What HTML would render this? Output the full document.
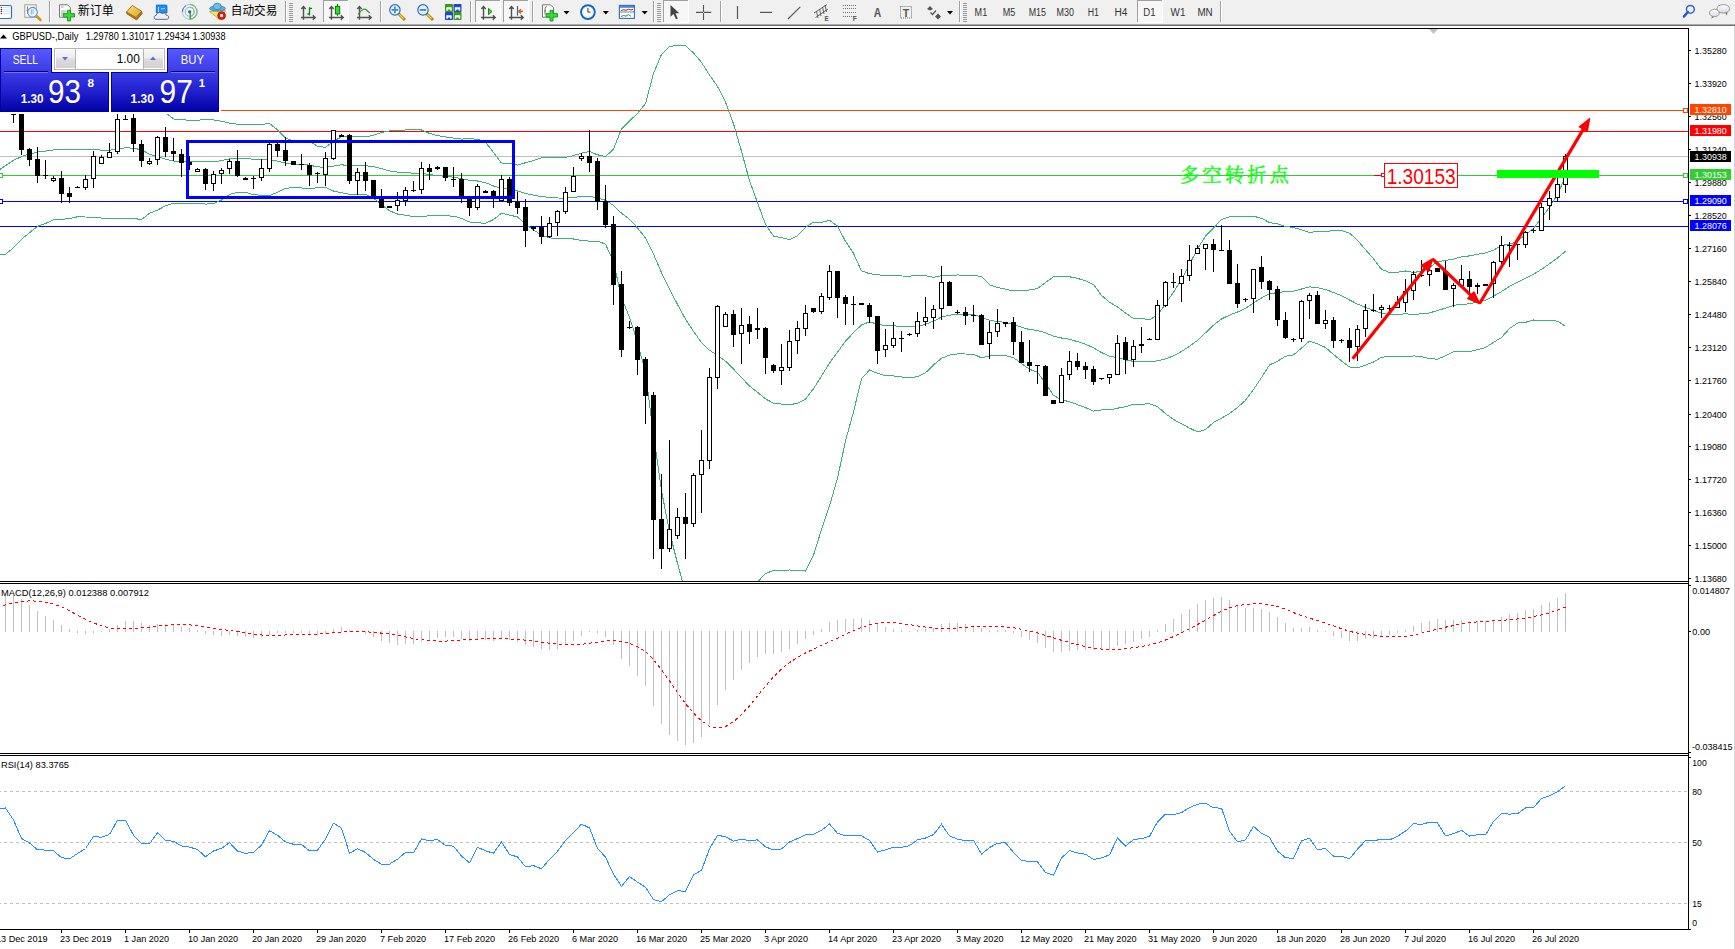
<!DOCTYPE html>
<html><head><meta charset="utf-8"><title>GBPUSD Daily</title>
<style>
html,body{margin:0;padding:0;background:#fff;}
body{width:1735px;height:949px;overflow:hidden;position:relative;}
svg{position:absolute;left:0;top:0;display:block;}
</style></head><body>
<svg width="1735" height="949" viewBox="0 0 1735 949" font-family="'Liberation Sans', sans-serif">
<rect x="0" y="0" width="1735" height="949" fill="#ffffff" />
<rect x="0" y="0" width="1735" height="24" fill="#f0f0f0" />
<rect x="0" y="24" width="1735" height="1" fill="#a9a9a9" />
<rect x="0" y="25" width="1735" height="1" fill="#6f6f6f" />
<rect x="1734" y="26" width="1" height="923" fill="#d4d4d4" />
<rect x="-2" y="5.5" width="13.5" height="13" rx="1.5" fill="#fff" stroke="#2f73c0" stroke-width="1.2"/>
<rect x="2.8" y="7.1" width="7.5" height="0.9" fill="#d4e4ff"/>
<circle cx="1.4" cy="7.5" r="0.75" fill="#f01010"/>
<rect x="2.8" y="9.1" width="7.5" height="0.9" fill="#d4e4ff"/>
<circle cx="1.4" cy="9.5" r="0.75" fill="#203020"/>
<rect x="2.8" y="11.1" width="7.5" height="0.9" fill="#d4e4ff"/>
<circle cx="1.4" cy="11.5" r="0.75" fill="#203020"/>
<rect x="2.8" y="13.1" width="7.5" height="0.9" fill="#d4e4ff"/>
<circle cx="1.4" cy="13.5" r="0.75" fill="#f01010"/>
<rect x="24.8" y="4.8" width="11.5" height="12.5" fill="#fff" stroke="#aaa593" stroke-width="1.1"/>
<path d="M27.5,6.5 L27.5,14 M26.5,10.5 L28.5,10.5 M34,6.5 L34,10" stroke="#707070" stroke-width="0.9"/>
<path d="M37,16.5 L40.5,20" stroke="#c89a10" stroke-width="2.6" stroke-linecap="round"/>
<circle cx="32.5" cy="12.2" r="4.8" fill="#e4f6ff" stroke="#5b92d6" stroke-width="1.1"/>
<path d="M31.5,9.5 L31.5,14.5 M33,9 L33,14" stroke="#9fb6c8" stroke-width="1"/>
<rect x="49" y="1" width="1" height="21" fill="#a0a0a0" />
<rect x="50" y="1" width="1" height="21" fill="#ffffff" />
<path d="M59.5,4.8 L67.5,4.8 L70.3,7.6 L70.3,17.2 L59.5,17.2 Z" fill="#fff" stroke="#777" stroke-width="1"/>
<path d="M61,7 L63.5,7 M61,11 L66,11 M61,13 L65,13 M61,15 L63,15" stroke="#999" stroke-width="0.9"/>
<path d="M67.5,10.3 L70.5,10.3 L70.5,13.6 L74.5,13.6 L74.5,17 L70.5,17 L70.5,21 L67.5,21 L67.5,17 L63.3,17 L63.3,13.6 L67.5,13.6 Z" fill="#3ad83a" stroke="#139a13" stroke-width="0.9"/>
<text x="77.8" y="15.3" font-size="12" fill="#000" font-family="'Liberation Sans', 'Noto Sans CJK SC', sans-serif" textLength="36" lengthAdjust="spacingAndGlyphs">新订单</text>
<defs><linearGradient id="ggold" x1="0" y1="0" x2="1" y2="1"><stop offset="0" stop-color="#f8e27a"/><stop offset="1" stop-color="#d8a820"/></linearGradient></defs>
<path d="M136,17.5 L141.6,11.2 L142.2,13.6 L136.6,20 L126.8,13.8 L126.6,12 Z" fill="#b8741a" stroke="#8a5010" stroke-width="0.7"/>
<path d="M126.6,12 L132.3,5.4 L141.6,11.2 L136,17.5 Z" fill="url(#ggold)" stroke="#a86810" stroke-width="0.9"/>
<path d="M156.3,5 L166.3,5 L167,6 L167,13 L156.3,13 Z" fill="#1b8ef0" stroke="#0c6ad0" stroke-width="0.8"/>
<path d="M158.5,7 L158.5,12 M160.8,9 L165,8.3" stroke="#bfe3ff" stroke-width="0.9"/>
<path d="M156,19.3 C153.5,19.3 153.6,15.2 156.3,15.3 C156.6,12.3 160.5,11.7 161.8,13.6 C163.3,12.4 166.2,13.4 166.3,15.3 C169.5,15.1 169.6,19.3 166.8,19.3 Z" fill="#eef0f6" stroke="#4c5d8c" stroke-width="0.9"/>
<circle cx="189.7" cy="11.8" r="7.4" fill="none" stroke="#9ec4e6" stroke-width="1"/>
<path d="M189.7,4.4 A7.4,7.4 0 0 1 189.7,19.2" fill="none" stroke="#7cba7c" stroke-width="1.2"/>
<circle cx="189.7" cy="11.8" r="4.5" fill="none" stroke="#8fb4e0" stroke-width="1"/>
<path d="M189.7,7.3 A4.5,4.5 0 0 1 189.7,16.3" fill="none" stroke="#86c086" stroke-width="1.1"/>
<path d="M182.4,11.8 A7.4,7.4 0 0 1 186,5.5" fill="none" stroke="#3d6fd0" stroke-width="1"/>
<circle cx="189.7" cy="11.8" r="1.6" fill="#2552c8"/>
<path d="M190.2,12 L190.2,19.3" stroke="#1aa01a" stroke-width="1.2"/>
<path d="M209.5,11.5 L225.5,10.5 L219.5,19.5 Z" fill="#f6e45a" stroke="#c8a020" stroke-width="0.8"/>
<ellipse cx="217.5" cy="8.5" rx="8" ry="2.6" fill="#5aaee0" stroke="#2a80b8" stroke-width="0.8"/>
<ellipse cx="217.3" cy="6.5" rx="4" ry="3.2" fill="#6cc0ee" stroke="#2a80b8" stroke-width="0.8"/>
<circle cx="221.6" cy="15.6" r="3.9" fill="#e02010" stroke="#b01000" stroke-width="0.8"/>
<rect x="220.2" y="14.2" width="2.8" height="2.8" fill="#fff"/>
<text x="230.8" y="15.3" font-size="12" fill="#000" font-family="'Liberation Sans', 'Noto Sans CJK SC', sans-serif" textLength="46.5" lengthAdjust="spacingAndGlyphs">自动交易</text>
<rect x="285" y="1" width="1" height="21" fill="#a0a0a0" />
<rect x="286" y="1" width="1" height="21" fill="#ffffff" />
<rect x="289" y="3" width="4" height="1" fill="#9a9a9a" />
<rect x="289" y="5" width="4" height="1" fill="#9a9a9a" />
<rect x="289" y="7" width="4" height="1" fill="#9a9a9a" />
<rect x="289" y="9" width="4" height="1" fill="#9a9a9a" />
<rect x="289" y="11" width="4" height="1" fill="#9a9a9a" />
<rect x="289" y="13" width="4" height="1" fill="#9a9a9a" />
<rect x="289" y="15" width="4" height="1" fill="#9a9a9a" />
<rect x="289" y="17" width="4" height="1" fill="#9a9a9a" />
<rect x="289" y="19" width="4" height="1" fill="#9a9a9a" />
<rect x="289" y="21" width="4" height="1" fill="#9a9a9a" />
<path d="M303.5,19.8 L303.5,6.8 M301.3,9 L303.5,6.6 L305.7,9 M301.0,17.5 L315.0,17.5 M312.8,15.3 L315.2,17.5 L312.8,19.7" stroke="#505050" stroke-width="1.4" fill="none"/>
<path d="M307.5,14 L309.5,14 L309.5,7.2 M309.5,8.3 L312,8.3 M309.5,7.2 L309.5,15.5" stroke="#008a00" stroke-width="1.3" fill="none"/>
<rect x="323" y="0" width="25" height="22" fill="#f7f7f7" />
<rect x="323" y="0" width="25" height="1" fill="#a0a0a0" />
<rect x="323" y="0" width="1" height="22" fill="#a0a0a0" />
<rect x="323" y="22" width="26" height="1" fill="#ffffff" />
<rect x="348" y="0" width="1" height="23" fill="#ffffff" />
<path d="M331.5,19.8 L331.5,6.8 M329.3,9 L331.5,6.6 L333.7,9 M329.0,17.5 L343.0,17.5 M340.8,15.3 L343.2,17.5 L340.8,19.7" stroke="#505050" stroke-width="1.4" fill="none"/>
<path d="M337.5,4 L337.5,15.8" stroke="#008000" stroke-width="1.2"/>
<rect x="335.4" y="6.4" width="4.3" height="7.5" fill="#38d838" stroke="#008000" stroke-width="1"/>
<path d="M359.5,19.8 L359.5,6.8 M357.3,9 L359.5,6.6 L361.7,9 M357.0,17.5 L371.0,17.5 M368.8,15.3 L371.2,17.5 L368.8,19.7" stroke="#505050" stroke-width="1.4" fill="none"/>
<path d="M358,14.5 Q361,10.5 363.5,9.3 Q365.5,8.6 367.5,11 L369.8,13" stroke="#2a9a2a" stroke-width="1.2" fill="none"/>
<rect x="380" y="1" width="1" height="21" fill="#a0a0a0" />
<rect x="381" y="1" width="1" height="21" fill="#ffffff" />
<path d="M398.9,14 L403.9,19" stroke="#b88a08" stroke-width="3" stroke-linecap="square"/>
<path d="M399.29999999999995,14.4 L403.5,18.6" stroke="#f0d850" stroke-width="1.2"/>
<circle cx="394.9" cy="9.9" r="5.2" fill="#dff2ff" stroke="#2a6fc0" stroke-width="1.2"/>
<path d="M391.59999999999997,9.9 L398.2,9.9 M394.9,6.6 L394.9,13.2" stroke="#4886b4" stroke-width="1.6"/>
<path d="M427,14 L432,19" stroke="#b88a08" stroke-width="3" stroke-linecap="square"/>
<path d="M427.4,14.4 L431.6,18.6" stroke="#f0d850" stroke-width="1.2"/>
<circle cx="423" cy="9.9" r="5.2" fill="#dff2ff" stroke="#2a6fc0" stroke-width="1.2"/>
<path d="M419.8,9.9 L426.2,9.9" stroke="#4886b4" stroke-width="1.8"/>
<rect x="445" y="4" width="8" height="8" rx="0.8" fill="#3a9a14"/>
<path d="M446.3,7.2 L451.7,7.2 L451.7,10.8 L450.2,10.8 L450.2,9.6 L447.8,9.6 L447.8,10.8 L446.3,10.8 Z" fill="#fff"/>
<rect x="453.5" y="4" width="8" height="8" rx="0.8" fill="#1a48d0"/>
<path d="M454.8,7.2 L460.2,7.2 L460.2,10.8 L458.7,10.8 L458.7,9.6 L456.3,9.6 L456.3,10.8 L454.8,10.8 Z" fill="#fff"/>
<rect x="445" y="12" width="8" height="8" rx="0.8" fill="#1a48d0"/>
<path d="M446.3,15.2 L451.7,15.2 L451.7,18.8 L450.2,18.8 L450.2,17.6 L447.8,17.6 L447.8,18.8 L446.3,18.8 Z" fill="#fff"/>
<rect x="453.5" y="12" width="8" height="8" rx="0.8" fill="#3a9a14"/>
<path d="M454.8,15.2 L460.2,15.2 L460.2,18.8 L458.7,18.8 L458.7,17.6 L456.3,17.6 L456.3,18.8 L454.8,18.8 Z" fill="#fff"/>
<rect x="470" y="1" width="1" height="21" fill="#a0a0a0" />
<rect x="471" y="1" width="1" height="21" fill="#ffffff" />
<rect x="475" y="0" width="25" height="22" fill="#f7f7f7" />
<rect x="475" y="0" width="25" height="1" fill="#a0a0a0" />
<rect x="475" y="0" width="1" height="22" fill="#a0a0a0" />
<rect x="475" y="22" width="26" height="1" fill="#ffffff" />
<rect x="500" y="0" width="1" height="23" fill="#ffffff" />
<path d="M483.5,19.8 L483.5,6.8 M481.3,9 L483.5,6.6 L485.7,9 M481.0,17.5 L495.0,17.5 M492.8,15.3 L495.2,17.5 L492.8,19.7" stroke="#505050" stroke-width="1.4" fill="none"/>
<path d="M488.5,8.3 L492,11.5 L488.5,14.7 Z" fill="#40d040" stroke="#109010" stroke-width="1"/>
<rect x="503" y="0" width="25" height="22" fill="#f7f7f7" />
<rect x="503" y="0" width="25" height="1" fill="#a0a0a0" />
<rect x="503" y="0" width="1" height="22" fill="#a0a0a0" />
<rect x="503" y="22" width="26" height="1" fill="#ffffff" />
<rect x="528" y="0" width="1" height="23" fill="#ffffff" />
<path d="M511.5,19.8 L511.5,6.8 M509.3,9 L511.5,6.6 L513.7,9 M509.0,17.5 L523.0,17.5 M520.8,15.3 L523.2,17.5 L520.8,19.7" stroke="#505050" stroke-width="1.4" fill="none"/>
<path d="M517.5,6 L517.5,15.7" stroke="#1a6ea8" stroke-width="1.2"/>
<path d="M518.5,11.4 L523,11.4 M518.5,11.4 L521,9.3 M518.5,11.4 L521,13.5" stroke="#e8500a" stroke-width="1.4"/>
<rect x="532" y="1" width="1" height="21" fill="#a0a0a0" />
<rect x="533" y="1" width="1" height="21" fill="#ffffff" />
<path d="M542.5,4.8 L550.5,4.8 L553.5,7.8 L553.5,17.2 L542.5,17.2 Z" fill="#fff" stroke="#777" stroke-width="1"/>
<path d="M545,14.5 L545,9 Q545,6.5 547,6.5 M544,11 L546,11" stroke="#605040" stroke-width="0.8" fill="none"/>
<path d="M550,10.3 L553,10.3 L553,13.6 L557.5,13.6 L557.5,17 L553,17 L553,21 L550,21 L550,17 L546,17 L546,13.6 L550,13.6 Z" fill="#3ad83a" stroke="#139a13" stroke-width="0.9"/>
<path d="M563.5,11 L569.5,11 L566.5,14.5 Z" fill="#000"/>
<circle cx="587.9" cy="12.1" r="6.9" fill="#fff" stroke="#1565c8" stroke-width="1.9"/>
<path d="M587.9,12.1 L587.9,8 M587.9,12.1 L590.5,12.1" stroke="#333" stroke-width="1"/>
<circle cx="587.9" cy="12.1" r="4.6" fill="none" stroke="#c8c8c8" stroke-width="0.8" stroke-dasharray="0.8,1.6"/>
<path d="M602.8,11 L608.8,11 L605.8,14.5 Z" fill="#000"/>
<rect x="619.4" y="5.4" width="15" height="13" fill="#fff" stroke="#2d6cc0" stroke-width="1.1"/>
<rect x="620" y="6" width="14" height="1.8" fill="#4a88d8"/>
<path d="M620,12 L634,12" stroke="#2d6cc0" stroke-width="0.8"/>
<path d="M621,10.5 L623.5,9.8 L626,10.3 L628.5,9.2 L631,10 L633,9.2" stroke="#a82010" stroke-width="1" fill="none"/>
<path d="M621,16.5 L623.5,15.5 L626,16.2 L628.5,14.6 L631,16.3" stroke="#1a9a1a" stroke-width="1" fill="none"/>
<path d="M641.7,11 L647.7,11 L644.7,14.5 Z" fill="#000"/>
<rect x="653" y="1" width="1" height="21" fill="#a0a0a0" />
<rect x="654" y="1" width="1" height="21" fill="#ffffff" />
<rect x="657" y="3" width="4" height="1" fill="#9a9a9a" />
<rect x="657" y="5" width="4" height="1" fill="#9a9a9a" />
<rect x="657" y="7" width="4" height="1" fill="#9a9a9a" />
<rect x="657" y="9" width="4" height="1" fill="#9a9a9a" />
<rect x="657" y="11" width="4" height="1" fill="#9a9a9a" />
<rect x="657" y="13" width="4" height="1" fill="#9a9a9a" />
<rect x="657" y="15" width="4" height="1" fill="#9a9a9a" />
<rect x="657" y="17" width="4" height="1" fill="#9a9a9a" />
<rect x="657" y="19" width="4" height="1" fill="#9a9a9a" />
<rect x="657" y="21" width="4" height="1" fill="#9a9a9a" />
<rect x="663" y="0" width="25" height="22" fill="#f7f7f7" />
<rect x="663" y="0" width="25" height="1" fill="#a0a0a0" />
<rect x="663" y="0" width="1" height="22" fill="#a0a0a0" />
<rect x="663" y="22" width="26" height="1" fill="#ffffff" />
<rect x="688" y="0" width="1" height="23" fill="#ffffff" />
<path d="M670.5,5 L670.5,16.8 L673.5,14 L676,19.3 L677.8,18.4 L675.4,13.3 L679.3,13.3 Z" fill="#444"/>
<path d="M696,12.4 L711.2,12.4 M703.5,5 L703.5,20" stroke="#555" stroke-width="1.1"/>
<rect x="703" y="11.9" width="1" height="1" fill="#f0f0f0"/>
<rect x="720" y="1" width="1" height="21" fill="#a0a0a0" />
<rect x="721" y="1" width="1" height="21" fill="#ffffff" />
<path d="M737.5,6 L737.5,19" stroke="#555" stroke-width="1.2"/>
<path d="M760,12.4 L772,12.4" stroke="#555" stroke-width="1.2"/>
<path d="M788,19 L800.3,6.8" stroke="#555" stroke-width="1.1"/>
<path d="M814,13 L827,4.5 M815.5,17.5 L828,9 M816.5,11 L818,18 M819.5,9 L821,16 M822.5,7 L824,14 M825,5 L826.5,12" stroke="#555" stroke-width="0.9" fill="none"/>
<text x="824.5" y="21" font-size="7" fill="#555" textLength="4.2" lengthAdjust="spacingAndGlyphs" font-weight="bold" >E</text>
<path d="M843,5.5 L856,5.5" stroke="#555" stroke-width="0.9" stroke-dasharray="0.9,1.1"/>
<path d="M843,8.5 L856,8.5" stroke="#555" stroke-width="0.9" stroke-dasharray="0.9,1.1"/>
<path d="M843,12.5 L856,12.5" stroke="#555" stroke-width="0.9" stroke-dasharray="0.9,1.1"/>
<path d="M843,16.5 L856,16.5" stroke="#555" stroke-width="0.9" stroke-dasharray="0.9,1.1"/>
<text x="852.8" y="21" font-size="7" fill="#555" textLength="4.0" lengthAdjust="spacingAndGlyphs" font-weight="bold" >F</text>
<text x="873.8" y="17.2" font-size="12" fill="#555" textLength="7.5" lengthAdjust="spacingAndGlyphs" font-weight="bold" >A</text>
<rect x="900.5" y="6.5" width="11" height="11.5" fill="none" stroke="#555" stroke-width="0.9" stroke-dasharray="0.9,1.1"/>
<text x="902.8" y="16.5" font-size="10.5" fill="#555" textLength="6.5" lengthAdjust="spacingAndGlyphs" font-weight="bold" >T</text>
<path d="M927,9 L930,6 L933,9 L930,10.5 Z M935,16.5 L938,13.5 L941,16.5 L938,19.5 Z" fill="#555"/>
<path d="M930.5,12.5 L932.5,14.5 L936,10.5" stroke="#555" stroke-width="1.2" fill="none"/>
<path d="M947,11 L953,11 L950,14.5 Z" fill="#000"/>
<rect x="959" y="1" width="1" height="21" fill="#a0a0a0" />
<rect x="960" y="1" width="1" height="21" fill="#ffffff" />
<rect x="963" y="3" width="4" height="1" fill="#9a9a9a" />
<rect x="963" y="5" width="4" height="1" fill="#9a9a9a" />
<rect x="963" y="7" width="4" height="1" fill="#9a9a9a" />
<rect x="963" y="9" width="4" height="1" fill="#9a9a9a" />
<rect x="963" y="11" width="4" height="1" fill="#9a9a9a" />
<rect x="963" y="13" width="4" height="1" fill="#9a9a9a" />
<rect x="963" y="15" width="4" height="1" fill="#9a9a9a" />
<rect x="963" y="17" width="4" height="1" fill="#9a9a9a" />
<rect x="963" y="19" width="4" height="1" fill="#9a9a9a" />
<rect x="963" y="21" width="4" height="1" fill="#9a9a9a" />
<text x="974.6" y="16" font-size="10" fill="#333" textLength="12.6" lengthAdjust="spacingAndGlyphs" >M1</text>
<text x="1002.7" y="16" font-size="10" fill="#333" textLength="12.6" lengthAdjust="spacingAndGlyphs" >M5</text>
<text x="1028.7" y="16" font-size="10" fill="#333" textLength="17.3" lengthAdjust="spacingAndGlyphs" >M15</text>
<text x="1056.6" y="16" font-size="10" fill="#333" textLength="17.4" lengthAdjust="spacingAndGlyphs" >M30</text>
<text x="1087.7" y="16" font-size="10" fill="#333" textLength="11.3" lengthAdjust="spacingAndGlyphs" >H1</text>
<text x="1114.4" y="16" font-size="10" fill="#333" textLength="12.9" lengthAdjust="spacingAndGlyphs" >H4</text>
<rect x="1137" y="0" width="25" height="22" fill="#f7f7f7" />
<rect x="1137" y="0" width="25" height="1" fill="#a0a0a0" />
<rect x="1137" y="0" width="1" height="22" fill="#a0a0a0" />
<rect x="1137" y="22" width="26" height="1" fill="#ffffff" />
<rect x="1162" y="0" width="1" height="23" fill="#ffffff" />
<text x="1143.3" y="16" font-size="10" fill="#333" textLength="12.2" lengthAdjust="spacingAndGlyphs" >D1</text>
<text x="1170.6" y="16" font-size="10" fill="#333" textLength="14.8" lengthAdjust="spacingAndGlyphs" >W1</text>
<text x="1197.4" y="16" font-size="10" fill="#333" textLength="15.3" lengthAdjust="spacingAndGlyphs" >MN</text>
<rect x="1220" y="1" width="1" height="21" fill="#a0a0a0" />
<rect x="1221" y="1" width="1" height="21" fill="#ffffff" />
<circle cx="1690.4" cy="9.3" r="3.9" fill="#f4f4ff" stroke="#2a64d6" stroke-width="1.5"/>
<path d="M1687.8,12 L1683.9,16.6" stroke="#2458d0" stroke-width="2.4" stroke-linecap="round"/>
<defs><linearGradient id="gbub" x1="0" y1="0" x2="0" y2="1"><stop offset="0" stop-color="#ffffff"/><stop offset="1" stop-color="#d8d8e4"/></linearGradient></defs>
<path d="M1725,12.6 L1726.8,15.6 L1727.5,12.3 Z" fill="#666"/>
<ellipse cx="1723.3" cy="8.8" rx="6.4" ry="4.2" fill="url(#gbub)" stroke="#8c8c8c" stroke-width="0.9"/>
<path d="M1712.5,16 L1711.2,18.8 L1714.5,16.6 Z" fill="#666"/>
<ellipse cx="1714.4" cy="13" rx="4.9" ry="3.7" fill="url(#gbub)" stroke="#8c8c8c" stroke-width="0.9"/>
<rect x="0" y="28" width="1689" height="1" fill="#000" />
<rect x="1688" y="28" width="1" height="902" fill="#000" />
<rect x="0" y="581" width="1689" height="1" fill="#000" />
<rect x="0" y="583" width="1689" height="1" fill="#000" />
<rect x="0" y="753" width="1689" height="1" fill="#000" />
<rect x="0" y="755" width="1689" height="1" fill="#000" />
<rect x="0" y="929" width="1689" height="1" fill="#000" />
<defs><clipPath id="cm"><rect x="0" y="29" width="1688" height="552"/></clipPath><clipPath id="cmacd"><rect x="0" y="584" width="1688" height="169"/></clipPath><clipPath id="crsi"><rect x="0" y="756" width="1688" height="173"/></clipPath></defs>
<g clip-path="url(#cm)">
<rect x="0" y="110" width="1688" height="1" fill="#ff4500" />
<rect x="0" y="131" width="1688" height="1" fill="#ff0000" />
<rect x="0" y="156" width="1688" height="1" fill="#c0c0c0" />
<rect x="0" y="175" width="1688" height="1" fill="#32cd32" />
<rect x="0" y="201" width="1688" height="1" fill="#0000ff" />
<rect x="0" y="226" width="1688" height="1" fill="#0000ff" />
<polyline points="-2.5,86.7 5.5,76.9 13.5,72.8 21.5,74.0 29.5,75.4 37.5,77.8 45.5,78.7 53.5,80.0 61.5,80.2 69.5,80.7 77.5,81.4 85.5,81.4 93.5,81.5 101.5,82.2 109.5,82.4 117.5,79.8 125.5,77.4 133.5,78.1 141.5,79.7 149.5,95.7 157.5,102.3 165.5,112.5 173.5,118.9 181.5,119.9 189.5,120.1 197.5,120.1 205.5,119.8 213.5,119.9 221.5,121.2 229.5,123.2 237.5,124.2 245.5,124.2 253.5,124.1 261.5,124.4 269.5,123.5 277.5,129.8 285.5,138.1 293.5,140.7 301.5,140.9 309.5,141.2 317.5,146.3 325.5,147.4 333.5,141.2 341.5,136.9 349.5,136.8 357.5,136.8 365.5,137.0 373.5,135.3 381.5,132.4 389.5,131.0 397.5,130.2 405.5,130.0 413.5,129.9 421.5,130.0 429.5,133.4 437.5,135.6 445.5,137.0 453.5,138.1 461.5,139.1 469.5,138.7 477.5,139.3 485.5,142.0 493.5,152.6 501.5,163.0 509.5,163.4 517.5,165.1 525.5,162.7 533.5,160.6 541.5,157.8 549.5,157.1 557.5,157.2 565.5,157.3 573.5,155.6 581.5,153.1 589.5,151.5 597.5,154.8 605.5,156.5 613.5,149.2 621.5,128.8 629.5,121.1 637.5,113.4 645.5,103.5 653.5,73.5 661.5,54.4 669.5,46.4 677.5,45.5 685.5,45.6 693.5,53.1 701.5,62.3 709.5,75.1 717.5,86.4 725.5,102.1 733.5,123.8 741.5,151.2 749.5,180.6 757.5,202.6 765.5,224.4 773.5,236.0 781.5,237.7 789.5,239.6 797.5,235.7 805.5,227.2 813.5,222.2 821.5,222.4 829.5,220.4 837.5,226.0 845.5,241.4 853.5,253.3 861.5,270.9 869.5,273.7 877.5,274.8 885.5,275.6 893.5,275.7 901.5,276.0 909.5,276.1 917.5,275.7 925.5,275.7 933.5,277.4 941.5,275.7 949.5,275.3 957.5,275.0 965.5,275.1 973.5,275.3 981.5,276.5 989.5,284.7 997.5,287.4 1005.5,289.2 1013.5,290.9 1021.5,290.9 1029.5,289.9 1037.5,288.5 1045.5,282.5 1053.5,276.9 1061.5,276.3 1069.5,276.8 1077.5,278.4 1085.5,280.9 1093.5,284.5 1101.5,295.4 1109.5,302.2 1117.5,307.0 1125.5,313.0 1133.5,318.5 1141.5,318.4 1149.5,319.7 1157.5,315.1 1165.5,303.9 1173.5,292.2 1181.5,279.4 1189.5,264.4 1197.5,248.9 1205.5,236.1 1213.5,228.0 1221.5,219.6 1229.5,216.7 1237.5,216.5 1245.5,216.7 1253.5,216.2 1261.5,218.4 1269.5,222.5 1277.5,223.9 1285.5,226.6 1293.5,227.4 1301.5,229.9 1309.5,232.4 1317.5,231.5 1325.5,231.7 1333.5,230.4 1341.5,230.5 1349.5,233.1 1357.5,240.3 1365.5,249.7 1373.5,258.8 1381.5,269.3 1389.5,272.5 1397.5,272.2 1405.5,271.0 1413.5,272.5 1421.5,271.2 1429.5,267.4 1437.5,261.8 1445.5,260.4 1453.5,259.1 1461.5,256.8 1469.5,255.9 1477.5,254.3 1485.5,252.9 1493.5,250.3 1501.5,245.5 1509.5,244.2 1517.5,241.3 1525.5,234.3 1533.5,228.6 1541.5,217.9 1549.5,207.3 1557.5,194.7 1565.5,176.2" fill="none" stroke="#3cb371" stroke-width="1" shape-rendering="crispEdges"/>
<polyline points="-2.5,171.0 5.5,165.6 13.5,160.3 21.5,156.6 29.5,154.0 37.5,152.1 45.5,151.1 53.5,150.0 61.5,149.9 69.5,149.6 77.5,149.1 85.5,149.2 93.5,149.4 101.5,150.1 109.5,150.3 117.5,149.0 125.5,147.7 133.5,148.3 141.5,149.7 149.5,154.4 157.5,156.3 165.5,159.1 173.5,161.0 181.5,161.7 189.5,161.9 197.5,161.6 205.5,162.0 213.5,161.8 221.5,160.6 229.5,158.8 237.5,158.2 245.5,158.3 253.5,159.4 261.5,159.9 269.5,159.5 277.5,161.1 285.5,163.1 293.5,164.2 301.5,164.4 309.5,165.1 317.5,166.9 325.5,167.3 333.5,166.1 341.5,164.8 349.5,165.6 357.5,165.8 365.5,165.6 373.5,166.7 381.5,168.6 389.5,170.9 397.5,172.1 405.5,172.6 413.5,173.2 421.5,173.2 429.5,174.6 437.5,175.5 445.5,176.4 453.5,177.1 461.5,178.7 469.5,180.4 477.5,181.0 485.5,182.7 493.5,186.0 501.5,188.2 509.5,189.2 517.5,191.0 525.5,193.5 533.5,195.2 541.5,196.6 549.5,197.4 557.5,198.0 565.5,198.1 573.5,197.3 581.5,196.7 589.5,196.3 597.5,198.0 605.5,200.3 613.5,205.5 621.5,213.2 629.5,219.2 637.5,227.9 645.5,238.0 653.5,254.2 661.5,272.6 669.5,289.0 677.5,304.5 685.5,319.1 693.5,331.4 701.5,342.6 709.5,350.3 717.5,355.1 725.5,361.2 733.5,369.1 741.5,377.6 749.5,386.0 757.5,392.3 765.5,398.9 773.5,403.2 781.5,404.1 789.5,404.8 797.5,403.2 805.5,399.1 813.5,388.7 821.5,376.0 829.5,363.1 837.5,352.1 845.5,341.2 853.5,332.6 861.5,324.9 869.5,321.9 877.5,324.1 885.5,325.6 893.5,325.8 901.5,326.5 909.5,326.6 917.5,326.3 925.5,324.3 933.5,321.2 941.5,317.0 949.5,315.2 957.5,314.4 965.5,314.5 973.5,314.7 981.5,317.2 989.5,320.2 997.5,321.5 1005.5,322.4 1013.5,324.3 1021.5,327.2 1029.5,329.6 1037.5,330.4 1045.5,332.9 1053.5,336.1 1061.5,338.0 1069.5,339.3 1077.5,341.6 1085.5,344.2 1093.5,347.8 1101.5,352.6 1109.5,356.1 1117.5,357.6 1125.5,359.8 1133.5,361.4 1141.5,361.3 1149.5,361.7 1157.5,360.8 1165.5,358.8 1173.5,355.9 1181.5,351.5 1189.5,346.3 1197.5,340.4 1205.5,332.8 1213.5,325.2 1221.5,319.0 1229.5,315.1 1237.5,312.0 1245.5,308.5 1253.5,302.9 1261.5,298.0 1269.5,293.7 1277.5,292.6 1285.5,291.5 1293.5,291.1 1301.5,289.0 1309.5,286.8 1317.5,287.7 1325.5,289.6 1333.5,292.4 1341.5,295.7 1349.5,300.0 1357.5,304.1 1365.5,307.4 1373.5,310.4 1381.5,313.2 1389.5,314.5 1397.5,314.3 1405.5,313.9 1413.5,314.2 1421.5,313.9 1429.5,312.9 1437.5,310.5 1445.5,308.1 1453.5,305.4 1461.5,304.3 1469.5,303.9 1477.5,302.0 1485.5,300.2 1493.5,296.3 1501.5,291.5 1509.5,286.4 1517.5,282.2 1525.5,278.3 1533.5,274.3 1541.5,269.3 1549.5,263.8 1557.5,257.9 1565.5,251.2" fill="none" stroke="#3cb371" stroke-width="1" shape-rendering="crispEdges"/>
<polyline points="-2.5,255.3 5.5,254.3 13.5,247.7 21.5,239.3 29.5,232.7 37.5,226.4 45.5,223.4 53.5,219.9 61.5,219.5 69.5,218.5 77.5,216.8 85.5,217.0 93.5,217.3 101.5,218.1 109.5,218.3 117.5,218.2 125.5,218.1 133.5,218.4 141.5,219.6 149.5,213.2 157.5,210.2 165.5,205.7 173.5,203.1 181.5,203.5 189.5,203.8 197.5,203.1 205.5,204.1 213.5,203.6 221.5,200.0 229.5,194.5 237.5,192.2 245.5,192.3 253.5,194.6 261.5,195.4 269.5,195.5 277.5,192.4 285.5,188.2 293.5,187.7 301.5,187.9 309.5,189.0 317.5,187.6 325.5,187.2 333.5,191.0 341.5,192.7 349.5,194.4 357.5,194.7 365.5,194.2 373.5,198.1 381.5,204.8 389.5,210.8 397.5,214.0 405.5,215.2 413.5,216.5 421.5,216.5 429.5,215.8 437.5,215.4 445.5,215.8 453.5,216.2 461.5,218.3 469.5,222.0 477.5,222.7 485.5,223.4 493.5,219.5 501.5,213.3 509.5,215.1 517.5,216.9 525.5,224.3 533.5,229.7 541.5,235.4 549.5,237.8 557.5,238.7 565.5,238.8 573.5,239.0 581.5,240.4 589.5,241.1 597.5,241.1 605.5,244.1 613.5,261.8 621.5,297.7 629.5,317.3 637.5,342.3 645.5,372.5 653.5,434.9 661.5,490.8 669.5,531.5 677.5,563.4 685.5,592.6 693.5,609.8 701.5,622.9 709.5,625.6 717.5,623.8 725.5,620.2 733.5,614.4 741.5,604.0 749.5,591.4 757.5,582.0 765.5,573.5 773.5,570.5 781.5,570.4 789.5,570.0 797.5,570.6 805.5,571.0 813.5,555.1 821.5,529.7 829.5,505.8 837.5,478.3 845.5,440.9 853.5,411.9 861.5,378.8 869.5,370.0 877.5,373.3 885.5,375.6 893.5,375.9 901.5,377.0 909.5,377.2 917.5,376.9 925.5,372.8 933.5,365.0 941.5,358.3 949.5,355.1 957.5,353.9 965.5,354.0 973.5,354.2 981.5,357.9 989.5,355.8 997.5,355.6 1005.5,355.6 1013.5,357.7 1021.5,363.5 1029.5,369.3 1037.5,372.2 1045.5,383.3 1053.5,395.4 1061.5,399.7 1069.5,401.8 1077.5,404.7 1085.5,407.5 1093.5,411.1 1101.5,409.9 1109.5,410.0 1117.5,408.2 1125.5,406.7 1133.5,404.2 1141.5,404.2 1149.5,403.7 1157.5,406.6 1165.5,413.7 1173.5,419.5 1181.5,423.7 1189.5,428.1 1197.5,431.9 1205.5,429.6 1213.5,422.4 1221.5,418.3 1229.5,413.5 1237.5,407.5 1245.5,400.3 1253.5,389.6 1261.5,377.5 1269.5,365.0 1277.5,361.2 1285.5,356.3 1293.5,354.9 1301.5,348.1 1309.5,341.1 1317.5,343.8 1325.5,347.5 1333.5,354.5 1341.5,360.9 1349.5,367.0 1357.5,367.9 1365.5,365.1 1373.5,362.0 1381.5,357.2 1389.5,356.5 1397.5,356.5 1405.5,356.8 1413.5,355.9 1421.5,356.6 1429.5,358.5 1437.5,359.2 1445.5,355.8 1453.5,351.6 1461.5,351.8 1469.5,351.8 1477.5,349.6 1485.5,347.5 1493.5,342.3 1501.5,337.5 1509.5,328.6 1517.5,323.1 1525.5,322.3 1533.5,320.0 1541.5,320.7 1549.5,320.3 1557.5,321.2 1565.5,326.2" fill="none" stroke="#3cb371" stroke-width="1" shape-rendering="crispEdges"/>
<g shape-rendering="crispEdges">
<rect x="5" y="60" width="1" height="48" fill="#000" />
<rect x="3" y="62" width="5" height="38" fill="#000" />
<rect x="13" y="114" width="1" height="9" fill="#000" />
<rect x="11" y="114" width="5" height="1" fill="#000" />
<rect x="21" y="100" width="1" height="55" fill="#000" />
<rect x="19" y="104" width="5" height="46" fill="#000" />
<rect x="29" y="148" width="1" height="18" fill="#000" />
<rect x="27" y="149" width="5" height="11" fill="#000" />
<rect x="37" y="147" width="1" height="36" fill="#000" />
<rect x="35" y="159" width="5" height="17" fill="#000" />
<rect x="45" y="160" width="1" height="19" fill="#000" />
<rect x="43" y="175" width="5" height="1" fill="#000" />
<rect x="53" y="176" width="1" height="6" fill="#000" />
<rect x="51.5" y="178.5" width="4" height="2" fill="#fff" stroke="#000"/>
<rect x="61" y="171" width="1" height="32" fill="#000" />
<rect x="59" y="178" width="5" height="16" fill="#000" />
<rect x="69" y="187" width="1" height="16" fill="#000" />
<rect x="67" y="193" width="5" height="4" fill="#000" />
<rect x="77" y="186" width="1" height="2" fill="#000" />
<rect x="75" y="187" width="5" height="1" fill="#000" />
<rect x="85" y="175" width="1" height="15" fill="#000" />
<rect x="83.5" y="179.5" width="4" height="8" fill="#fff" stroke="#000"/>
<rect x="93" y="151" width="1" height="37" fill="#000" />
<rect x="91.5" y="156.5" width="4" height="22" fill="#fff" stroke="#000"/>
<rect x="101" y="155" width="1" height="9" fill="#000" />
<rect x="99.5" y="157.5" width="4" height="6" fill="#fff" stroke="#000"/>
<rect x="109" y="143" width="1" height="15" fill="#000" />
<rect x="107.5" y="152.5" width="4" height="5" fill="#fff" stroke="#000"/>
<rect x="117" y="114" width="1" height="40" fill="#000" />
<rect x="115.5" y="119.5" width="4" height="32" fill="#fff" stroke="#000"/>
<rect x="125" y="115" width="1" height="5" fill="#000" />
<rect x="123" y="119" width="5" height="1" fill="#000" />
<rect x="133" y="114" width="1" height="38" fill="#000" />
<rect x="131" y="118" width="5" height="26" fill="#000" />
<rect x="141" y="140" width="1" height="27" fill="#000" />
<rect x="139" y="144" width="5" height="17" fill="#000" />
<rect x="149" y="158" width="1" height="7" fill="#000" />
<rect x="147.5" y="161.5" width="4" height="2" fill="#fff" stroke="#000"/>
<rect x="157" y="136" width="1" height="29" fill="#000" />
<rect x="155.5" y="137.5" width="4" height="22" fill="#fff" stroke="#000"/>
<rect x="165" y="127" width="1" height="30" fill="#000" />
<rect x="163" y="137" width="5" height="15" fill="#000" />
<rect x="173" y="138" width="1" height="23" fill="#000" />
<rect x="171" y="151" width="5" height="3" fill="#000" />
<rect x="181" y="149" width="1" height="28" fill="#000" />
<rect x="179" y="154" width="5" height="9" fill="#000" />
<rect x="189" y="156" width="1" height="14" fill="#000" />
<rect x="187" y="162" width="5" height="3" fill="#000" />
<rect x="197" y="168" width="1" height="4" fill="#000" />
<rect x="195.5" y="169.5" width="4" height="2" fill="#fff" stroke="#000"/>
<rect x="205" y="168" width="1" height="22" fill="#000" />
<rect x="203" y="169" width="5" height="15" fill="#000" />
<rect x="213" y="171" width="1" height="20" fill="#000" />
<rect x="211.5" y="174.5" width="4" height="9" fill="#fff" stroke="#000"/>
<rect x="221" y="168" width="1" height="16" fill="#000" />
<rect x="219.5" y="170.5" width="4" height="3" fill="#fff" stroke="#000"/>
<rect x="229" y="159" width="1" height="15" fill="#000" />
<rect x="227.5" y="161.5" width="4" height="7" fill="#fff" stroke="#000"/>
<rect x="237" y="150" width="1" height="27" fill="#000" />
<rect x="235" y="161" width="5" height="15" fill="#000" />
<rect x="245" y="177" width="1" height="3" fill="#000" />
<rect x="243" y="178" width="5" height="2" fill="#000" />
<rect x="253" y="176" width="1" height="13" fill="#000" />
<rect x="251" y="178" width="5" height="1" fill="#000" />
<rect x="261" y="159" width="1" height="22" fill="#000" />
<rect x="259.5" y="168.5" width="4" height="9" fill="#fff" stroke="#000"/>
<rect x="269" y="143" width="1" height="29" fill="#000" />
<rect x="267.5" y="144.5" width="4" height="24" fill="#fff" stroke="#000"/>
<rect x="277" y="143" width="1" height="14" fill="#000" />
<rect x="275" y="144" width="5" height="7" fill="#000" />
<rect x="285" y="137" width="1" height="29" fill="#000" />
<rect x="283" y="150" width="5" height="11" fill="#000" />
<rect x="293" y="161" width="1" height="4" fill="#000" />
<rect x="291" y="161" width="5" height="4" fill="#000" />
<rect x="301" y="154" width="1" height="16" fill="#000" />
<rect x="299" y="164" width="5" height="1" fill="#000" />
<rect x="309" y="163" width="1" height="23" fill="#000" />
<rect x="307" y="165" width="5" height="10" fill="#000" />
<rect x="317" y="172" width="1" height="11" fill="#000" />
<rect x="315" y="173" width="5" height="1" fill="#000" />
<rect x="325" y="152" width="1" height="34" fill="#000" />
<rect x="323.5" y="158.5" width="4" height="16" fill="#fff" stroke="#000"/>
<rect x="333" y="130" width="1" height="30" fill="#000" />
<rect x="331.5" y="130.5" width="4" height="28" fill="#fff" stroke="#000"/>
<rect x="341" y="134" width="1" height="3" fill="#000" />
<rect x="339" y="135" width="5" height="2" fill="#000" />
<rect x="349" y="134" width="1" height="50" fill="#000" />
<rect x="347" y="135" width="5" height="46" fill="#000" />
<rect x="357" y="168" width="1" height="27" fill="#000" />
<rect x="355.5" y="172.5" width="4" height="8" fill="#fff" stroke="#000"/>
<rect x="365" y="162" width="1" height="29" fill="#000" />
<rect x="363" y="172" width="5" height="9" fill="#000" />
<rect x="373" y="180" width="1" height="17" fill="#000" />
<rect x="371" y="180" width="5" height="16" fill="#000" />
<rect x="381" y="189" width="1" height="19" fill="#000" />
<rect x="379" y="197" width="5" height="11" fill="#000" />
<rect x="389" y="206" width="1" height="2" fill="#000" />
<rect x="387" y="206" width="5" height="2" fill="#000" />
<rect x="397" y="192" width="1" height="19" fill="#000" />
<rect x="395.5" y="200.5" width="4" height="5" fill="#fff" stroke="#000"/>
<rect x="405" y="187" width="1" height="19" fill="#000" />
<rect x="403.5" y="190.5" width="4" height="10" fill="#fff" stroke="#000"/>
<rect x="413" y="181" width="1" height="11" fill="#000" />
<rect x="411" y="190" width="5" height="1" fill="#000" />
<rect x="421" y="162" width="1" height="32" fill="#000" />
<rect x="419.5" y="168.5" width="4" height="21" fill="#fff" stroke="#000"/>
<rect x="429" y="164" width="1" height="16" fill="#000" />
<rect x="427" y="168" width="5" height="4" fill="#000" />
<rect x="437" y="166" width="1" height="4" fill="#000" />
<rect x="435" y="167" width="5" height="2" fill="#000" />
<rect x="445" y="167" width="1" height="14" fill="#000" />
<rect x="443" y="167" width="5" height="11" fill="#000" />
<rect x="453" y="167" width="1" height="20" fill="#000" />
<rect x="451" y="179" width="5" height="1" fill="#000" />
<rect x="461" y="173" width="1" height="30" fill="#000" />
<rect x="459" y="179" width="5" height="17" fill="#000" />
<rect x="469" y="196" width="1" height="20" fill="#000" />
<rect x="467" y="198" width="5" height="10" fill="#000" />
<rect x="477" y="184" width="1" height="26" fill="#000" />
<rect x="475.5" y="186.5" width="4" height="21" fill="#fff" stroke="#000"/>
<rect x="485" y="190" width="1" height="3" fill="#000" />
<rect x="483" y="191" width="5" height="2" fill="#000" />
<rect x="493" y="190" width="1" height="18" fill="#000" />
<rect x="491" y="191" width="5" height="6" fill="#000" />
<rect x="501" y="175" width="1" height="26" fill="#000" />
<rect x="499.5" y="179.5" width="4" height="21" fill="#fff" stroke="#000"/>
<rect x="509" y="177" width="1" height="29" fill="#000" />
<rect x="507" y="179" width="5" height="24" fill="#000" />
<rect x="517" y="192" width="1" height="22" fill="#000" />
<rect x="515" y="202" width="5" height="6" fill="#000" />
<rect x="525" y="199" width="1" height="48" fill="#000" />
<rect x="523" y="207" width="5" height="24" fill="#000" />
<rect x="533" y="226" width="1" height="5" fill="#000" />
<rect x="531" y="227" width="5" height="2" fill="#000" />
<rect x="541" y="216" width="1" height="28" fill="#000" />
<rect x="539" y="227" width="5" height="10" fill="#000" />
<rect x="549" y="217" width="1" height="21" fill="#000" />
<rect x="547.5" y="223.5" width="4" height="13" fill="#fff" stroke="#000"/>
<rect x="557" y="210" width="1" height="26" fill="#000" />
<rect x="555.5" y="211.5" width="4" height="11" fill="#fff" stroke="#000"/>
<rect x="565" y="187" width="1" height="27" fill="#000" />
<rect x="563.5" y="192.5" width="4" height="19" fill="#fff" stroke="#000"/>
<rect x="573" y="167" width="1" height="25" fill="#000" />
<rect x="571.5" y="176.5" width="4" height="15" fill="#fff" stroke="#000"/>
<rect x="581" y="153" width="1" height="8" fill="#000" />
<rect x="579.5" y="156.5" width="4" height="2" fill="#fff" stroke="#000"/>
<rect x="589" y="130" width="1" height="42" fill="#000" />
<rect x="587" y="156" width="5" height="7" fill="#000" />
<rect x="597" y="158" width="1" height="52" fill="#000" />
<rect x="595" y="161" width="5" height="41" fill="#000" />
<rect x="605" y="185" width="1" height="43" fill="#000" />
<rect x="603" y="201" width="5" height="24" fill="#000" />
<rect x="613" y="216" width="1" height="89" fill="#000" />
<rect x="611" y="224" width="5" height="61" fill="#000" />
<rect x="621" y="271" width="1" height="86" fill="#000" />
<rect x="619" y="284" width="5" height="66" fill="#000" />
<rect x="629" y="321" width="1" height="8" fill="#000" />
<rect x="627" y="327" width="5" height="1" fill="#000" />
<rect x="637" y="326" width="1" height="49" fill="#000" />
<rect x="635" y="327" width="5" height="33" fill="#000" />
<rect x="645" y="357" width="1" height="67" fill="#000" />
<rect x="643" y="359" width="5" height="37" fill="#000" />
<rect x="653" y="392" width="1" height="167" fill="#000" />
<rect x="651" y="395" width="5" height="125" fill="#000" />
<rect x="661" y="474" width="1" height="95" fill="#000" />
<rect x="659" y="519" width="5" height="30" fill="#000" />
<rect x="669" y="440" width="1" height="112" fill="#000" />
<rect x="667.5" y="529.5" width="4" height="19" fill="#fff" stroke="#000"/>
<rect x="677" y="508" width="1" height="31" fill="#000" />
<rect x="675.5" y="517.5" width="4" height="18" fill="#fff" stroke="#000"/>
<rect x="685" y="493" width="1" height="66" fill="#000" />
<rect x="683" y="517" width="5" height="7" fill="#000" />
<rect x="693" y="473" width="1" height="54" fill="#000" />
<rect x="691.5" y="475.5" width="4" height="48" fill="#fff" stroke="#000"/>
<rect x="701" y="430" width="1" height="83" fill="#000" />
<rect x="699.5" y="460.5" width="4" height="14" fill="#fff" stroke="#000"/>
<rect x="709" y="368" width="1" height="101" fill="#000" />
<rect x="707.5" y="377.5" width="4" height="83" fill="#fff" stroke="#000"/>
<rect x="717" y="305" width="1" height="84" fill="#000" />
<rect x="715.5" y="306.5" width="4" height="71" fill="#fff" stroke="#000"/>
<rect x="725" y="312" width="1" height="15" fill="#000" />
<rect x="723.5" y="314.5" width="4" height="12" fill="#fff" stroke="#000"/>
<rect x="733" y="310" width="1" height="37" fill="#000" />
<rect x="731" y="314" width="5" height="21" fill="#000" />
<rect x="741" y="308" width="1" height="56" fill="#000" />
<rect x="739.5" y="325.5" width="4" height="8" fill="#fff" stroke="#000"/>
<rect x="749" y="316" width="1" height="28" fill="#000" />
<rect x="747" y="324" width="5" height="8" fill="#000" />
<rect x="757" y="308" width="1" height="31" fill="#000" />
<rect x="755.5" y="328.5" width="4" height="1" fill="#fff" stroke="#000"/>
<rect x="765" y="327" width="1" height="47" fill="#000" />
<rect x="763" y="328" width="5" height="30" fill="#000" />
<rect x="773" y="364" width="1" height="9" fill="#000" />
<rect x="771" y="365" width="5" height="6" fill="#000" />
<rect x="781" y="344" width="1" height="41" fill="#000" />
<rect x="779.5" y="367.5" width="4" height="3" fill="#fff" stroke="#000"/>
<rect x="789" y="330" width="1" height="41" fill="#000" />
<rect x="787.5" y="341.5" width="4" height="26" fill="#fff" stroke="#000"/>
<rect x="797" y="321" width="1" height="33" fill="#000" />
<rect x="795.5" y="328.5" width="4" height="12" fill="#fff" stroke="#000"/>
<rect x="805" y="305" width="1" height="31" fill="#000" />
<rect x="803.5" y="313.5" width="4" height="15" fill="#fff" stroke="#000"/>
<rect x="813" y="308" width="1" height="5" fill="#000" />
<rect x="811" y="308" width="5" height="4" fill="#000" />
<rect x="821" y="293" width="1" height="21" fill="#000" />
<rect x="819.5" y="296.5" width="4" height="15" fill="#fff" stroke="#000"/>
<rect x="829" y="265" width="1" height="35" fill="#000" />
<rect x="827.5" y="271.5" width="4" height="26" fill="#fff" stroke="#000"/>
<rect x="837" y="271" width="1" height="47" fill="#000" />
<rect x="835" y="271" width="5" height="27" fill="#000" />
<rect x="845" y="295" width="1" height="30" fill="#000" />
<rect x="843" y="297" width="5" height="7" fill="#000" />
<rect x="853" y="296" width="1" height="29" fill="#000" />
<rect x="851" y="304" width="5" height="1" fill="#000" />
<rect x="861" y="303" width="1" height="2" fill="#000" />
<rect x="859" y="303" width="5" height="2" fill="#000" />
<rect x="869" y="303" width="1" height="20" fill="#000" />
<rect x="867" y="305" width="5" height="12" fill="#000" />
<rect x="877" y="316" width="1" height="48" fill="#000" />
<rect x="875" y="316" width="5" height="35" fill="#000" />
<rect x="885" y="329" width="1" height="28" fill="#000" />
<rect x="883.5" y="345.5" width="4" height="4" fill="#fff" stroke="#000"/>
<rect x="893" y="322" width="1" height="26" fill="#000" />
<rect x="891.5" y="338.5" width="4" height="7" fill="#fff" stroke="#000"/>
<rect x="901" y="331" width="1" height="21" fill="#000" />
<rect x="899" y="338" width="5" height="1" fill="#000" />
<rect x="909" y="333" width="1" height="3" fill="#000" />
<rect x="907" y="334" width="5" height="1" fill="#000" />
<rect x="917" y="312" width="1" height="25" fill="#000" />
<rect x="915.5" y="321.5" width="4" height="12" fill="#fff" stroke="#000"/>
<rect x="925" y="297" width="1" height="29" fill="#000" />
<rect x="923.5" y="317.5" width="4" height="4" fill="#fff" stroke="#000"/>
<rect x="933" y="305" width="1" height="24" fill="#000" />
<rect x="931.5" y="309.5" width="4" height="8" fill="#fff" stroke="#000"/>
<rect x="941" y="266" width="1" height="54" fill="#000" />
<rect x="939.5" y="282.5" width="4" height="26" fill="#fff" stroke="#000"/>
<rect x="949" y="281" width="1" height="25" fill="#000" />
<rect x="947" y="282" width="5" height="24" fill="#000" />
<rect x="957" y="310" width="1" height="4" fill="#000" />
<rect x="955" y="312" width="5" height="1" fill="#000" />
<rect x="965" y="307" width="1" height="18" fill="#000" />
<rect x="963" y="312" width="5" height="4" fill="#000" />
<rect x="973" y="305" width="1" height="17" fill="#000" />
<rect x="971" y="315" width="5" height="1" fill="#000" />
<rect x="981" y="314" width="1" height="31" fill="#000" />
<rect x="979" y="315" width="5" height="30" fill="#000" />
<rect x="989" y="321" width="1" height="38" fill="#000" />
<rect x="987.5" y="332.5" width="4" height="11" fill="#fff" stroke="#000"/>
<rect x="997" y="309" width="1" height="28" fill="#000" />
<rect x="995.5" y="323.5" width="4" height="8" fill="#fff" stroke="#000"/>
<rect x="1005" y="322" width="1" height="5" fill="#000" />
<rect x="1003.5" y="322.5" width="4" height="1" fill="#fff" stroke="#000"/>
<rect x="1013" y="317" width="1" height="38" fill="#000" />
<rect x="1011" y="322" width="5" height="20" fill="#000" />
<rect x="1021" y="331" width="1" height="32" fill="#000" />
<rect x="1019" y="342" width="5" height="21" fill="#000" />
<rect x="1029" y="340" width="1" height="32" fill="#000" />
<rect x="1027" y="362" width="5" height="4" fill="#000" />
<rect x="1037" y="365" width="1" height="19" fill="#000" />
<rect x="1035" y="365" width="5" height="1" fill="#000" />
<rect x="1045" y="365" width="1" height="31" fill="#000" />
<rect x="1043" y="366" width="5" height="30" fill="#000" />
<rect x="1053" y="400" width="1" height="4" fill="#000" />
<rect x="1051" y="400" width="5" height="4" fill="#000" />
<rect x="1061" y="368" width="1" height="35" fill="#000" />
<rect x="1059.5" y="375.5" width="4" height="27" fill="#fff" stroke="#000"/>
<rect x="1069" y="351" width="1" height="29" fill="#000" />
<rect x="1067.5" y="361.5" width="4" height="13" fill="#fff" stroke="#000"/>
<rect x="1077" y="353" width="1" height="17" fill="#000" />
<rect x="1075" y="361" width="5" height="6" fill="#000" />
<rect x="1085" y="362" width="1" height="17" fill="#000" />
<rect x="1083" y="366" width="5" height="4" fill="#000" />
<rect x="1093" y="366" width="1" height="19" fill="#000" />
<rect x="1091" y="369" width="5" height="13" fill="#000" />
<rect x="1101" y="378" width="1" height="2" fill="#000" />
<rect x="1099" y="378" width="5" height="1" fill="#000" />
<rect x="1109" y="374" width="1" height="10" fill="#000" />
<rect x="1107.5" y="374.5" width="4" height="3" fill="#fff" stroke="#000"/>
<rect x="1117" y="335" width="1" height="40" fill="#000" />
<rect x="1115.5" y="343.5" width="4" height="31" fill="#fff" stroke="#000"/>
<rect x="1125" y="337" width="1" height="37" fill="#000" />
<rect x="1123" y="342" width="5" height="18" fill="#000" />
<rect x="1133" y="340" width="1" height="27" fill="#000" />
<rect x="1131.5" y="346.5" width="4" height="13" fill="#fff" stroke="#000"/>
<rect x="1141" y="327" width="1" height="26" fill="#000" />
<rect x="1139.5" y="344.5" width="4" height="1" fill="#fff" stroke="#000"/>
<rect x="1149" y="338" width="1" height="2" fill="#000" />
<rect x="1147" y="339" width="5" height="1" fill="#000" />
<rect x="1157" y="300" width="1" height="40" fill="#000" />
<rect x="1155.5" y="305.5" width="4" height="34" fill="#fff" stroke="#000"/>
<rect x="1165" y="281" width="1" height="26" fill="#000" />
<rect x="1163.5" y="282.5" width="4" height="23" fill="#fff" stroke="#000"/>
<rect x="1173" y="273" width="1" height="15" fill="#000" />
<rect x="1171" y="282" width="5" height="1" fill="#000" />
<rect x="1181" y="269" width="1" height="33" fill="#000" />
<rect x="1179.5" y="276.5" width="4" height="7" fill="#fff" stroke="#000"/>
<rect x="1189" y="245" width="1" height="36" fill="#000" />
<rect x="1187.5" y="260.5" width="4" height="15" fill="#fff" stroke="#000"/>
<rect x="1197" y="245" width="1" height="9" fill="#000" />
<rect x="1195.5" y="248.5" width="4" height="5" fill="#fff" stroke="#000"/>
<rect x="1205" y="244" width="1" height="26" fill="#000" />
<rect x="1203.5" y="244.5" width="4" height="4" fill="#fff" stroke="#000"/>
<rect x="1213" y="239" width="1" height="33" fill="#000" />
<rect x="1211" y="244" width="5" height="6" fill="#000" />
<rect x="1221" y="225" width="1" height="26" fill="#000" />
<rect x="1219" y="250" width="5" height="1" fill="#000" />
<rect x="1229" y="240" width="1" height="44" fill="#000" />
<rect x="1227" y="250" width="5" height="34" fill="#000" />
<rect x="1237" y="264" width="1" height="44" fill="#000" />
<rect x="1235" y="283" width="5" height="21" fill="#000" />
<rect x="1245" y="298" width="1" height="4" fill="#000" />
<rect x="1243" y="299" width="5" height="1" fill="#000" />
<rect x="1253" y="269" width="1" height="44" fill="#000" />
<rect x="1251.5" y="269.5" width="4" height="29" fill="#fff" stroke="#000"/>
<rect x="1261" y="256" width="1" height="33" fill="#000" />
<rect x="1259" y="267" width="5" height="15" fill="#000" />
<rect x="1269" y="280" width="1" height="20" fill="#000" />
<rect x="1267" y="281" width="5" height="9" fill="#000" />
<rect x="1277" y="286" width="1" height="40" fill="#000" />
<rect x="1275" y="289" width="5" height="31" fill="#000" />
<rect x="1285" y="312" width="1" height="27" fill="#000" />
<rect x="1283" y="320" width="5" height="18" fill="#000" />
<rect x="1293" y="338" width="1" height="4" fill="#000" />
<rect x="1291" y="339" width="5" height="1" fill="#000" />
<rect x="1301" y="300" width="1" height="42" fill="#000" />
<rect x="1299.5" y="301.5" width="4" height="37" fill="#fff" stroke="#000"/>
<rect x="1309" y="293" width="1" height="26" fill="#000" />
<rect x="1307.5" y="295.5" width="4" height="5" fill="#fff" stroke="#000"/>
<rect x="1317" y="291" width="1" height="33" fill="#000" />
<rect x="1315" y="295" width="5" height="29" fill="#000" />
<rect x="1325" y="310" width="1" height="19" fill="#000" />
<rect x="1323.5" y="320.5" width="4" height="3" fill="#fff" stroke="#000"/>
<rect x="1333" y="317" width="1" height="31" fill="#000" />
<rect x="1331" y="320" width="5" height="21" fill="#000" />
<rect x="1341" y="339" width="1" height="4" fill="#000" />
<rect x="1339" y="340" width="5" height="1" fill="#000" />
<rect x="1349" y="328" width="1" height="34" fill="#000" />
<rect x="1347" y="340" width="5" height="8" fill="#000" />
<rect x="1357" y="325" width="1" height="36" fill="#000" />
<rect x="1355.5" y="329.5" width="4" height="17" fill="#fff" stroke="#000"/>
<rect x="1365" y="304" width="1" height="33" fill="#000" />
<rect x="1363.5" y="310.5" width="4" height="18" fill="#fff" stroke="#000"/>
<rect x="1373" y="294" width="1" height="18" fill="#000" />
<rect x="1371" y="310" width="5" height="1" fill="#000" />
<rect x="1381" y="305" width="1" height="13" fill="#000" />
<rect x="1379.5" y="307.5" width="4" height="2" fill="#fff" stroke="#000"/>
<rect x="1389" y="305" width="1" height="6" fill="#000" />
<rect x="1387" y="308" width="5" height="1" fill="#000" />
<rect x="1397" y="296" width="1" height="12" fill="#000" />
<rect x="1395.5" y="302.5" width="4" height="5" fill="#fff" stroke="#000"/>
<rect x="1405" y="279" width="1" height="33" fill="#000" />
<rect x="1403.5" y="291.5" width="4" height="11" fill="#fff" stroke="#000"/>
<rect x="1413" y="271" width="1" height="29" fill="#000" />
<rect x="1411.5" y="274.5" width="4" height="16" fill="#fff" stroke="#000"/>
<rect x="1421" y="260" width="1" height="17" fill="#000" />
<rect x="1419" y="275" width="5" height="1" fill="#000" />
<rect x="1429" y="269" width="1" height="17" fill="#000" />
<rect x="1427.5" y="270.5" width="4" height="4" fill="#fff" stroke="#000"/>
<rect x="1437" y="268" width="1" height="4" fill="#000" />
<rect x="1435" y="268" width="5" height="4" fill="#000" />
<rect x="1445" y="261" width="1" height="29" fill="#000" />
<rect x="1443" y="271" width="5" height="19" fill="#000" />
<rect x="1453" y="283" width="1" height="24" fill="#000" />
<rect x="1451.5" y="285.5" width="4" height="3" fill="#fff" stroke="#000"/>
<rect x="1461" y="265" width="1" height="21" fill="#000" />
<rect x="1459.5" y="279.5" width="4" height="6" fill="#fff" stroke="#000"/>
<rect x="1469" y="271" width="1" height="25" fill="#000" />
<rect x="1467" y="279" width="5" height="8" fill="#000" />
<rect x="1477" y="283" width="1" height="11" fill="#000" />
<rect x="1475.5" y="285.5" width="4" height="1" fill="#fff" stroke="#000"/>
<rect x="1485" y="284" width="1" height="2" fill="#000" />
<rect x="1483" y="284" width="5" height="2" fill="#000" />
<rect x="1493" y="261" width="1" height="37" fill="#000" />
<rect x="1491.5" y="262.5" width="4" height="21" fill="#fff" stroke="#000"/>
<rect x="1501" y="236" width="1" height="28" fill="#000" />
<rect x="1499.5" y="245.5" width="4" height="16" fill="#fff" stroke="#000"/>
<rect x="1509" y="242" width="1" height="25" fill="#000" />
<rect x="1507" y="245" width="5" height="1" fill="#000" />
<rect x="1517" y="244" width="1" height="16" fill="#000" />
<rect x="1515" y="244" width="5" height="1" fill="#000" />
<rect x="1525" y="231" width="1" height="17" fill="#000" />
<rect x="1523.5" y="232.5" width="4" height="12" fill="#fff" stroke="#000"/>
<rect x="1533" y="228" width="1" height="5" fill="#000" />
<rect x="1531" y="230" width="5" height="1" fill="#000" />
<rect x="1541" y="203" width="1" height="28" fill="#000" />
<rect x="1539.5" y="207.5" width="4" height="23" fill="#fff" stroke="#000"/>
<rect x="1549" y="191" width="1" height="29" fill="#000" />
<rect x="1547.5" y="198.5" width="4" height="7" fill="#fff" stroke="#000"/>
<rect x="1557" y="178" width="1" height="24" fill="#000" />
<rect x="1555.5" y="184.5" width="4" height="13" fill="#fff" stroke="#000"/>
<rect x="1565" y="154" width="1" height="39" fill="#000" />
<rect x="1563.5" y="156.5" width="4" height="28" fill="#fff" stroke="#000"/>
</g>
<rect x="187.5" y="141.5" width="326" height="56" fill="none" stroke="#0000ff" stroke-width="3" shape-rendering="crispEdges"/>
</g>
<g clip-path="url(#cm)">
<path d="M1429,29 L1438,29 L1433.5,34 Z" fill="#c0c0c0"/>
<text x="1180" y="182" font-size="19.5" fill="#00ff00" font-family="'Liberation Serif', 'Noto Serif CJK SC', serif" textLength="109" lengthAdjust="spacing" stroke="#00ff00" stroke-width="0.35">多空转折点</text>
<rect x="1374" y="175" width="7" height="1" fill="#ff0000" />
<rect x="1381.5" y="173.5" width="3" height="3" fill="#fff" stroke="#ff0000"/>
<rect x="1384.5" y="163.5" width="73" height="24" fill="#fff" stroke="#ff0000"/>
<text x="1386.7" y="184" font-size="22.6" fill="#ff0000" textLength="69" lengthAdjust="spacingAndGlyphs">1.30153</text>
<line x1="1352.6" y1="358.7" x2="1426.3" y2="266.8" stroke="#ff0000" stroke-width="3.2"/>
<path d="M1432.6,259.0 L1428.6,271.2 L1421.6,265.5 Z" fill="#ff0000" stroke="#ff0000" stroke-width="1.5" stroke-linejoin="round"/>
<line x1="1432.6" y1="259.0" x2="1472.3" y2="296.6" stroke="#ff0000" stroke-width="3.2"/>
<path d="M1479.6,303.5 L1467.8,298.5 L1474.0,292.0 Z" fill="#ff0000" stroke="#ff0000" stroke-width="1.5" stroke-linejoin="round"/>
<line x1="1479.6" y1="303.5" x2="1584.4" y2="127.4" stroke="#ff0000" stroke-width="3.2"/>
<path d="M1589.5,118.8 L1587.2,131.4 L1579.5,126.8 Z" fill="#ff0000" stroke="#ff0000" stroke-width="1.5" stroke-linejoin="round"/>
<rect x="1497" y="170" width="102" height="8" fill="#00ff00" />
</g>
<defs><linearGradient id="gh" x1="0" y1="0" x2="0" y2="1"><stop offset="0" stop-color="#5858ff"/><stop offset="1" stop-color="#3a3ae4"/></linearGradient><linearGradient id="gl" x1="0" y1="0" x2="0" y2="1"><stop offset="0" stop-color="#3a3ae6"/><stop offset="0.5" stop-color="#1f1fcc"/><stop offset="1" stop-color="#0202a8"/></linearGradient><linearGradient id="gb" x1="0" y1="0" x2="0" y2="1"><stop offset="0" stop-color="#f6f6f6"/><stop offset="0.45" stop-color="#ececec"/><stop offset="0.5" stop-color="#dcdcdc"/><stop offset="1" stop-color="#d2d2d2"/></linearGradient></defs>
<rect x="0" y="45" width="221" height="69" fill="#ffffff" />
<rect x="0" y="72" width="109" height="40" fill="#0000a0" />
<rect x="1" y="73" width="107" height="38" fill="url(#gl)"/>
<rect x="111" y="72" width="108" height="40" fill="#0000a0" />
<rect x="112" y="73" width="106" height="38" fill="url(#gl)"/>
<rect x="0" y="48" width="52" height="25" fill="#0000a0" />
<rect x="1" y="49" width="50" height="24" fill="url(#gh)"/>
<rect x="4" y="71" width="44" height="1" fill="#00006e" />
<rect x="4" y="72" width="44" height="1" fill="#7272ff" />
<rect x="167" y="48" width="52" height="25" fill="#0000a0" />
<rect x="168" y="49" width="50" height="24" fill="url(#gh)"/>
<rect x="171" y="71" width="44" height="1" fill="#00006e" />
<rect x="171" y="72" width="44" height="1" fill="#7272ff" />
<rect x="54" y="48" width="111" height="22" fill="#b4b4b4" />
<rect x="55" y="49" width="109" height="20" fill="#ffffff" />
<rect x="56" y="50" width="19" height="18" fill="url(#gb)"/>
<rect x="75" y="49" width="1" height="20" fill="#b4b4b4" />
<rect x="144" y="50" width="19" height="18" fill="url(#gb)"/>
<rect x="143" y="49" width="1" height="20" fill="#b4b4b4" />
<path d="M62,57 L68,57 L65,60.5 Z" fill="#5a6fd0"/>
<path d="M150,60 L156,60 L153,56.5 Z" fill="#5a6fd0"/>
<text x="116.7" y="62.8" font-size="12.5" fill="#000" textLength="23.2" lengthAdjust="spacingAndGlyphs" >1.00</text>
<text x="12.7" y="64" font-size="12.5" fill="#ffffff" textLength="25.2" lengthAdjust="spacingAndGlyphs" >SELL</text>
<text x="180.7" y="64" font-size="12.5" fill="#ffffff" textLength="23.3" lengthAdjust="spacingAndGlyphs" >BUY</text>
<text x="20.7" y="103" font-size="12.2" fill="#ffffff" textLength="22.8" lengthAdjust="spacingAndGlyphs" font-weight="bold" >1.30</text>
<text x="48" y="103" font-size="34" fill="#ffffff" textLength="33.0" lengthAdjust="spacingAndGlyphs" >93</text>
<text x="87.5" y="86.8" font-size="11.5" fill="#ffffff" textLength="6.5" lengthAdjust="spacingAndGlyphs" font-weight="bold" >8</text>
<text x="130.6" y="103" font-size="12.2" fill="#ffffff" textLength="23.2" lengthAdjust="spacingAndGlyphs" font-weight="bold" >1.30</text>
<text x="159.5" y="103" font-size="34" fill="#ffffff" textLength="33.3" lengthAdjust="spacingAndGlyphs" >97</text>
<text x="198.8" y="87" font-size="11.5" fill="#ffffff" textLength="6.3" lengthAdjust="spacingAndGlyphs" font-weight="bold" >1</text>
<rect x="1689" y="50" width="2" height="1" fill="#000" />
<text x="1694.5" y="54" font-size="9.7" fill="#000" textLength="32.3" lengthAdjust="spacingAndGlyphs" >1.35280</text>
<rect x="1689" y="83" width="2" height="1" fill="#000" />
<text x="1694.5" y="87" font-size="9.7" fill="#000" textLength="32.3" lengthAdjust="spacingAndGlyphs" >1.33920</text>
<rect x="1689" y="116" width="2" height="1" fill="#000" />
<text x="1694.5" y="120" font-size="9.7" fill="#000" textLength="32.3" lengthAdjust="spacingAndGlyphs" >1.32560</text>
<rect x="1689" y="149" width="2" height="1" fill="#000" />
<text x="1694.5" y="153" font-size="9.7" fill="#000" textLength="32.3" lengthAdjust="spacingAndGlyphs" >1.31240</text>
<rect x="1689" y="182" width="2" height="1" fill="#000" />
<text x="1694.5" y="186" font-size="9.7" fill="#000" textLength="32.3" lengthAdjust="spacingAndGlyphs" >1.29880</text>
<rect x="1689" y="215" width="2" height="1" fill="#000" />
<text x="1694.5" y="219" font-size="9.7" fill="#000" textLength="32.3" lengthAdjust="spacingAndGlyphs" >1.28520</text>
<rect x="1689" y="248" width="2" height="1" fill="#000" />
<text x="1694.5" y="252" font-size="9.7" fill="#000" textLength="32.3" lengthAdjust="spacingAndGlyphs" >1.27160</text>
<rect x="1689" y="281" width="2" height="1" fill="#000" />
<text x="1694.5" y="285" font-size="9.7" fill="#000" textLength="32.3" lengthAdjust="spacingAndGlyphs" >1.25840</text>
<rect x="1689" y="314" width="2" height="1" fill="#000" />
<text x="1694.5" y="318" font-size="9.7" fill="#000" textLength="32.3" lengthAdjust="spacingAndGlyphs" >1.24480</text>
<rect x="1689" y="347" width="2" height="1" fill="#000" />
<text x="1694.5" y="351" font-size="9.7" fill="#000" textLength="32.3" lengthAdjust="spacingAndGlyphs" >1.23120</text>
<rect x="1689" y="380" width="2" height="1" fill="#000" />
<text x="1694.5" y="384" font-size="9.7" fill="#000" textLength="32.3" lengthAdjust="spacingAndGlyphs" >1.21760</text>
<rect x="1689" y="414" width="2" height="1" fill="#000" />
<text x="1694.5" y="418" font-size="9.7" fill="#000" textLength="32.3" lengthAdjust="spacingAndGlyphs" >1.20400</text>
<rect x="1689" y="446" width="2" height="1" fill="#000" />
<text x="1694.5" y="450" font-size="9.7" fill="#000" textLength="32.3" lengthAdjust="spacingAndGlyphs" >1.19080</text>
<rect x="1689" y="479" width="2" height="1" fill="#000" />
<text x="1694.5" y="483" font-size="9.7" fill="#000" textLength="32.3" lengthAdjust="spacingAndGlyphs" >1.17720</text>
<rect x="1689" y="512" width="2" height="1" fill="#000" />
<text x="1694.5" y="516" font-size="9.7" fill="#000" textLength="32.3" lengthAdjust="spacingAndGlyphs" >1.16360</text>
<rect x="1689" y="545" width="2" height="1" fill="#000" />
<text x="1694.5" y="549" font-size="9.7" fill="#000" textLength="32.3" lengthAdjust="spacingAndGlyphs" >1.15000</text>
<rect x="1689" y="578" width="2" height="1" fill="#000" />
<text x="1694.5" y="582" font-size="9.7" fill="#000" textLength="32.3" lengthAdjust="spacingAndGlyphs" >1.13680</text>
<rect x="1690" y="104" width="41" height="11" fill="#ff4500" />
<text x="1694.5" y="113" font-size="9.7" fill="#fff" textLength="32.3" lengthAdjust="spacingAndGlyphs" >1.32810</text>
<rect x="1690" y="125" width="41" height="11" fill="#ff0000" />
<text x="1694.5" y="134" font-size="9.7" fill="#fff" textLength="32.3" lengthAdjust="spacingAndGlyphs" >1.31980</text>
<rect x="1690" y="151" width="41" height="11" fill="#000000" />
<text x="1694.5" y="160" font-size="9.7" fill="#fff" textLength="32.3" lengthAdjust="spacingAndGlyphs" >1.30938</text>
<rect x="1690" y="169" width="41" height="11" fill="#32cd32" />
<text x="1694.5" y="178" font-size="9.7" fill="#fff" textLength="32.3" lengthAdjust="spacingAndGlyphs" >1.30153</text>
<rect x="1690" y="195" width="41" height="11" fill="#0000ff" />
<text x="1694.5" y="204" font-size="9.7" fill="#fff" textLength="32.3" lengthAdjust="spacingAndGlyphs" >1.29090</text>
<rect x="1690" y="220" width="41" height="11" fill="#0000ff" />
<text x="1694.5" y="229" font-size="9.7" fill="#fff" textLength="32.3" lengthAdjust="spacingAndGlyphs" >1.28076</text>
<rect x="1683.5" y="108.5" width="4" height="4" fill="#fff" stroke="#ff4500"/>
<rect x="1683.5" y="173.5" width="4" height="4" fill="#fff" stroke="#32cd32"/>
<rect x="1683.5" y="199.5" width="4" height="4" fill="#fff" stroke="#0000ff"/>
<rect x="-1.5" y="173.5" width="4" height="4" fill="#fff" stroke="#32cd32"/>
<rect x="-1.5" y="199.5" width="4" height="4" fill="#fff" stroke="#0000ff"/>
<path d="M0,38.5 L3.5,34.5 L7,38.5 Z" fill="#000"/>
<text x="12.2" y="40" font-size="10.2" fill="#000" textLength="66.3" lengthAdjust="spacingAndGlyphs" >GBPUSD-,Daily</text>
<text x="85.7" y="40" font-size="10.2" fill="#000" textLength="139.8" lengthAdjust="spacingAndGlyphs" >1.29780 1.31017 1.29434 1.30938</text>
<g clip-path="url(#cmacd)">
<g shape-rendering="crispEdges">
<rect x="5" y="593" width="1" height="39" fill="#c0c0c0" />
<rect x="13" y="595" width="1" height="37" fill="#c0c0c0" />
<rect x="21" y="599" width="1" height="33" fill="#c0c0c0" />
<rect x="29" y="605" width="1" height="27" fill="#c0c0c0" />
<rect x="37" y="611" width="1" height="21" fill="#c0c0c0" />
<rect x="45" y="616" width="1" height="16" fill="#c0c0c0" />
<rect x="53" y="620" width="1" height="12" fill="#c0c0c0" />
<rect x="61" y="625" width="1" height="7" fill="#c0c0c0" />
<rect x="69" y="629" width="1" height="3" fill="#c0c0c0" />
<rect x="77" y="631" width="1" height="2" fill="#c0c0c0" />
<rect x="85" y="631" width="1" height="3" fill="#c0c0c0" />
<rect x="93" y="631" width="1" height="2" fill="#c0c0c0" />
<rect x="101" y="631" width="1" height="1" fill="#c0c0c0" />
<rect x="109" y="629" width="1" height="3" fill="#c0c0c0" />
<rect x="117" y="625" width="1" height="7" fill="#c0c0c0" />
<rect x="125" y="621" width="1" height="11" fill="#c0c0c0" />
<rect x="133" y="621" width="1" height="11" fill="#c0c0c0" />
<rect x="141" y="623" width="1" height="9" fill="#c0c0c0" />
<rect x="149" y="625" width="1" height="7" fill="#c0c0c0" />
<rect x="157" y="624" width="1" height="8" fill="#c0c0c0" />
<rect x="165" y="624" width="1" height="8" fill="#c0c0c0" />
<rect x="173" y="625" width="1" height="7" fill="#c0c0c0" />
<rect x="181" y="627" width="1" height="5" fill="#c0c0c0" />
<rect x="189" y="628" width="1" height="4" fill="#c0c0c0" />
<rect x="197" y="630" width="1" height="2" fill="#c0c0c0" />
<rect x="205" y="631" width="1" height="3" fill="#c0c0c0" />
<rect x="213" y="631" width="1" height="4" fill="#c0c0c0" />
<rect x="221" y="631" width="1" height="5" fill="#c0c0c0" />
<rect x="229" y="631" width="1" height="4" fill="#c0c0c0" />
<rect x="237" y="631" width="1" height="5" fill="#c0c0c0" />
<rect x="245" y="631" width="1" height="6" fill="#c0c0c0" />
<rect x="253" y="631" width="1" height="7" fill="#c0c0c0" />
<rect x="261" y="631" width="1" height="6" fill="#c0c0c0" />
<rect x="269" y="631" width="1" height="4" fill="#c0c0c0" />
<rect x="277" y="631" width="1" height="2" fill="#c0c0c0" />
<rect x="285" y="631" width="1" height="2" fill="#c0c0c0" />
<rect x="293" y="631" width="1" height="2" fill="#c0c0c0" />
<rect x="301" y="631" width="1" height="2" fill="#c0c0c0" />
<rect x="309" y="631" width="1" height="3" fill="#c0c0c0" />
<rect x="317" y="631" width="1" height="4" fill="#c0c0c0" />
<rect x="325" y="631" width="1" height="3" fill="#c0c0c0" />
<rect x="333" y="629" width="1" height="3" fill="#c0c0c0" />
<rect x="341" y="627" width="1" height="5" fill="#c0c0c0" />
<rect x="349" y="630" width="1" height="2" fill="#c0c0c0" />
<rect x="357" y="631" width="1" height="1" fill="#c0c0c0" />
<rect x="365" y="631" width="1" height="3" fill="#c0c0c0" />
<rect x="373" y="631" width="1" height="6" fill="#c0c0c0" />
<rect x="381" y="631" width="1" height="10" fill="#c0c0c0" />
<rect x="389" y="631" width="1" height="12" fill="#c0c0c0" />
<rect x="397" y="631" width="1" height="14" fill="#c0c0c0" />
<rect x="405" y="631" width="1" height="13" fill="#c0c0c0" />
<rect x="413" y="631" width="1" height="13" fill="#c0c0c0" />
<rect x="421" y="631" width="1" height="11" fill="#c0c0c0" />
<rect x="429" y="631" width="1" height="9" fill="#c0c0c0" />
<rect x="437" y="631" width="1" height="7" fill="#c0c0c0" />
<rect x="445" y="631" width="1" height="6" fill="#c0c0c0" />
<rect x="453" y="631" width="1" height="6" fill="#c0c0c0" />
<rect x="461" y="631" width="1" height="8" fill="#c0c0c0" />
<rect x="469" y="631" width="1" height="10" fill="#c0c0c0" />
<rect x="477" y="631" width="1" height="9" fill="#c0c0c0" />
<rect x="485" y="631" width="1" height="9" fill="#c0c0c0" />
<rect x="493" y="631" width="1" height="10" fill="#c0c0c0" />
<rect x="501" y="631" width="1" height="8" fill="#c0c0c0" />
<rect x="509" y="631" width="1" height="9" fill="#c0c0c0" />
<rect x="517" y="631" width="1" height="11" fill="#c0c0c0" />
<rect x="525" y="631" width="1" height="14" fill="#c0c0c0" />
<rect x="533" y="631" width="1" height="16" fill="#c0c0c0" />
<rect x="541" y="631" width="1" height="18" fill="#c0c0c0" />
<rect x="549" y="631" width="1" height="19" fill="#c0c0c0" />
<rect x="557" y="631" width="1" height="18" fill="#c0c0c0" />
<rect x="565" y="631" width="1" height="14" fill="#c0c0c0" />
<rect x="573" y="631" width="1" height="10" fill="#c0c0c0" />
<rect x="581" y="631" width="1" height="5" fill="#c0c0c0" />
<rect x="589" y="631" width="1" height="1" fill="#c0c0c0" />
<rect x="597" y="631" width="1" height="2" fill="#c0c0c0" />
<rect x="605" y="631" width="1" height="6" fill="#c0c0c0" />
<rect x="613" y="631" width="1" height="14" fill="#c0c0c0" />
<rect x="621" y="631" width="1" height="28" fill="#c0c0c0" />
<rect x="629" y="631" width="1" height="35" fill="#c0c0c0" />
<rect x="637" y="631" width="1" height="45" fill="#c0c0c0" />
<rect x="645" y="631" width="1" height="55" fill="#c0c0c0" />
<rect x="653" y="631" width="1" height="75" fill="#c0c0c0" />
<rect x="661" y="631" width="1" height="93" fill="#c0c0c0" />
<rect x="669" y="631" width="1" height="104" fill="#c0c0c0" />
<rect x="677" y="631" width="1" height="110" fill="#c0c0c0" />
<rect x="685" y="631" width="1" height="114" fill="#c0c0c0" />
<rect x="693" y="631" width="1" height="112" fill="#c0c0c0" />
<rect x="701" y="631" width="1" height="106" fill="#c0c0c0" />
<rect x="709" y="631" width="1" height="93" fill="#c0c0c0" />
<rect x="717" y="631" width="1" height="74" fill="#c0c0c0" />
<rect x="725" y="631" width="1" height="59" fill="#c0c0c0" />
<rect x="733" y="631" width="1" height="49" fill="#c0c0c0" />
<rect x="741" y="631" width="1" height="39" fill="#c0c0c0" />
<rect x="749" y="631" width="1" height="32" fill="#c0c0c0" />
<rect x="757" y="631" width="1" height="26" fill="#c0c0c0" />
<rect x="765" y="631" width="1" height="23" fill="#c0c0c0" />
<rect x="773" y="631" width="1" height="23" fill="#c0c0c0" />
<rect x="781" y="631" width="1" height="21" fill="#c0c0c0" />
<rect x="789" y="631" width="1" height="18" fill="#c0c0c0" />
<rect x="797" y="631" width="1" height="13" fill="#c0c0c0" />
<rect x="805" y="631" width="1" height="8" fill="#c0c0c0" />
<rect x="813" y="631" width="1" height="4" fill="#c0c0c0" />
<rect x="821" y="629" width="1" height="3" fill="#c0c0c0" />
<rect x="829" y="622" width="1" height="10" fill="#c0c0c0" />
<rect x="837" y="620" width="1" height="12" fill="#c0c0c0" />
<rect x="845" y="619" width="1" height="13" fill="#c0c0c0" />
<rect x="853" y="619" width="1" height="13" fill="#c0c0c0" />
<rect x="861" y="618" width="1" height="14" fill="#c0c0c0" />
<rect x="869" y="620" width="1" height="12" fill="#c0c0c0" />
<rect x="877" y="624" width="1" height="8" fill="#c0c0c0" />
<rect x="885" y="627" width="1" height="5" fill="#c0c0c0" />
<rect x="893" y="629" width="1" height="3" fill="#c0c0c0" />
<rect x="901" y="630" width="1" height="2" fill="#c0c0c0" />
<rect x="909" y="631" width="1" height="1" fill="#c0c0c0" />
<rect x="917" y="630" width="1" height="2" fill="#c0c0c0" />
<rect x="925" y="629" width="1" height="3" fill="#c0c0c0" />
<rect x="933" y="628" width="1" height="4" fill="#c0c0c0" />
<rect x="941" y="624" width="1" height="8" fill="#c0c0c0" />
<rect x="949" y="623" width="1" height="9" fill="#c0c0c0" />
<rect x="957" y="623" width="1" height="9" fill="#c0c0c0" />
<rect x="965" y="624" width="1" height="8" fill="#c0c0c0" />
<rect x="973" y="625" width="1" height="7" fill="#c0c0c0" />
<rect x="981" y="628" width="1" height="4" fill="#c0c0c0" />
<rect x="989" y="630" width="1" height="2" fill="#c0c0c0" />
<rect x="997" y="630" width="1" height="2" fill="#c0c0c0" />
<rect x="1005" y="630" width="1" height="2" fill="#c0c0c0" />
<rect x="1013" y="631" width="1" height="2" fill="#c0c0c0" />
<rect x="1021" y="631" width="1" height="6" fill="#c0c0c0" />
<rect x="1029" y="631" width="1" height="9" fill="#c0c0c0" />
<rect x="1037" y="631" width="1" height="12" fill="#c0c0c0" />
<rect x="1045" y="631" width="1" height="17" fill="#c0c0c0" />
<rect x="1053" y="631" width="1" height="21" fill="#c0c0c0" />
<rect x="1061" y="631" width="1" height="21" fill="#c0c0c0" />
<rect x="1069" y="631" width="1" height="20" fill="#c0c0c0" />
<rect x="1077" y="631" width="1" height="19" fill="#c0c0c0" />
<rect x="1085" y="631" width="1" height="19" fill="#c0c0c0" />
<rect x="1093" y="631" width="1" height="19" fill="#c0c0c0" />
<rect x="1101" y="631" width="1" height="19" fill="#c0c0c0" />
<rect x="1109" y="631" width="1" height="19" fill="#c0c0c0" />
<rect x="1117" y="631" width="1" height="15" fill="#c0c0c0" />
<rect x="1125" y="631" width="1" height="13" fill="#c0c0c0" />
<rect x="1133" y="631" width="1" height="11" fill="#c0c0c0" />
<rect x="1141" y="631" width="1" height="8" fill="#c0c0c0" />
<rect x="1149" y="631" width="1" height="6" fill="#c0c0c0" />
<rect x="1157" y="630" width="1" height="2" fill="#c0c0c0" />
<rect x="1165" y="624" width="1" height="8" fill="#c0c0c0" />
<rect x="1173" y="619" width="1" height="13" fill="#c0c0c0" />
<rect x="1181" y="614" width="1" height="18" fill="#c0c0c0" />
<rect x="1189" y="609" width="1" height="23" fill="#c0c0c0" />
<rect x="1197" y="604" width="1" height="28" fill="#c0c0c0" />
<rect x="1205" y="600" width="1" height="32" fill="#c0c0c0" />
<rect x="1213" y="598" width="1" height="34" fill="#c0c0c0" />
<rect x="1221" y="597" width="1" height="35" fill="#c0c0c0" />
<rect x="1229" y="600" width="1" height="32" fill="#c0c0c0" />
<rect x="1237" y="605" width="1" height="27" fill="#c0c0c0" />
<rect x="1245" y="608" width="1" height="24" fill="#c0c0c0" />
<rect x="1253" y="608" width="1" height="24" fill="#c0c0c0" />
<rect x="1261" y="609" width="1" height="23" fill="#c0c0c0" />
<rect x="1269" y="612" width="1" height="20" fill="#c0c0c0" />
<rect x="1277" y="617" width="1" height="15" fill="#c0c0c0" />
<rect x="1285" y="623" width="1" height="9" fill="#c0c0c0" />
<rect x="1293" y="628" width="1" height="4" fill="#c0c0c0" />
<rect x="1301" y="628" width="1" height="4" fill="#c0c0c0" />
<rect x="1309" y="627" width="1" height="5" fill="#c0c0c0" />
<rect x="1317" y="630" width="1" height="2" fill="#c0c0c0" />
<rect x="1325" y="631" width="1" height="1" fill="#c0c0c0" />
<rect x="1333" y="631" width="1" height="5" fill="#c0c0c0" />
<rect x="1341" y="631" width="1" height="7" fill="#c0c0c0" />
<rect x="1349" y="631" width="1" height="10" fill="#c0c0c0" />
<rect x="1357" y="631" width="1" height="10" fill="#c0c0c0" />
<rect x="1365" y="631" width="1" height="8" fill="#c0c0c0" />
<rect x="1373" y="631" width="1" height="7" fill="#c0c0c0" />
<rect x="1381" y="631" width="1" height="5" fill="#c0c0c0" />
<rect x="1389" y="631" width="1" height="4" fill="#c0c0c0" />
<rect x="1397" y="631" width="1" height="2" fill="#c0c0c0" />
<rect x="1405" y="630" width="1" height="2" fill="#c0c0c0" />
<rect x="1413" y="626" width="1" height="6" fill="#c0c0c0" />
<rect x="1421" y="623" width="1" height="9" fill="#c0c0c0" />
<rect x="1429" y="621" width="1" height="11" fill="#c0c0c0" />
<rect x="1437" y="619" width="1" height="13" fill="#c0c0c0" />
<rect x="1445" y="620" width="1" height="12" fill="#c0c0c0" />
<rect x="1453" y="620" width="1" height="12" fill="#c0c0c0" />
<rect x="1461" y="620" width="1" height="12" fill="#c0c0c0" />
<rect x="1469" y="621" width="1" height="11" fill="#c0c0c0" />
<rect x="1477" y="621" width="1" height="11" fill="#c0c0c0" />
<rect x="1485" y="621" width="1" height="11" fill="#c0c0c0" />
<rect x="1493" y="620" width="1" height="12" fill="#c0c0c0" />
<rect x="1501" y="617" width="1" height="15" fill="#c0c0c0" />
<rect x="1509" y="614" width="1" height="18" fill="#c0c0c0" />
<rect x="1517" y="613" width="1" height="19" fill="#c0c0c0" />
<rect x="1525" y="610" width="1" height="22" fill="#c0c0c0" />
<rect x="1533" y="609" width="1" height="23" fill="#c0c0c0" />
<rect x="1541" y="605" width="1" height="27" fill="#c0c0c0" />
<rect x="1549" y="602" width="1" height="30" fill="#c0c0c0" />
<rect x="1557" y="598" width="1" height="34" fill="#c0c0c0" />
<rect x="1565" y="593" width="1" height="39" fill="#c0c0c0" />
</g>
<polyline points="-2.5,607.6 5.5,604.9 13.5,602.7 21.5,601.4 29.5,600.9 37.5,601.1 45.5,602.2 53.5,603.9 61.5,607.0 69.5,610.8 77.5,615.1 85.5,619.4 93.5,622.9 101.5,625.8 109.5,627.9 117.5,628.9 125.5,629.0 133.5,628.6 141.5,627.9 149.5,627.1 157.5,626.1 165.5,625.3 173.5,624.6 181.5,624.4 189.5,624.8 197.5,625.7 205.5,627.0 213.5,628.2 221.5,629.3 229.5,630.5 237.5,631.7 245.5,632.9 253.5,634.1 261.5,635.0 269.5,635.4 277.5,635.3 285.5,635.0 293.5,634.7 301.5,634.5 309.5,634.2 317.5,634.0 325.5,633.5 333.5,632.7 341.5,632.0 349.5,631.7 357.5,631.7 365.5,631.8 373.5,632.3 381.5,633.1 389.5,634.0 397.5,635.2 405.5,636.8 413.5,638.6 421.5,639.8 429.5,640.6 437.5,641.0 445.5,641.1 453.5,640.7 461.5,640.1 469.5,639.7 477.5,639.2 485.5,638.8 493.5,638.7 501.5,638.6 509.5,638.9 517.5,639.4 525.5,640.2 533.5,641.2 541.5,642.1 549.5,643.2 557.5,644.1 565.5,644.6 573.5,644.9 581.5,644.4 589.5,643.3 597.5,642.1 605.5,640.9 613.5,640.5 621.5,641.4 629.5,643.4 637.5,646.8 645.5,651.7 653.5,659.5 661.5,669.7 669.5,680.9 677.5,692.5 685.5,703.7 693.5,713.0 701.5,720.9 709.5,726.2 717.5,728.4 725.5,726.6 733.5,721.7 741.5,714.5 749.5,705.8 757.5,695.9 765.5,686.1 773.5,676.8 781.5,668.9 789.5,662.6 797.5,657.5 805.5,653.0 813.5,649.1 821.5,645.4 829.5,641.7 837.5,638.1 845.5,634.3 853.5,630.7 861.5,627.5 869.5,624.8 877.5,623.3 885.5,622.5 893.5,622.6 901.5,623.5 909.5,624.7 917.5,625.9 925.5,627.1 933.5,628.1 941.5,628.5 949.5,628.4 957.5,628.0 965.5,627.5 973.5,626.8 981.5,626.5 989.5,626.4 997.5,626.5 1005.5,626.8 1013.5,627.7 1021.5,629.2 1029.5,630.9 1037.5,632.9 1045.5,635.4 1053.5,637.9 1061.5,640.3 1069.5,642.5 1077.5,644.7 1085.5,646.5 1093.5,648.0 1101.5,649.1 1109.5,649.9 1117.5,649.7 1125.5,648.9 1133.5,647.7 1141.5,646.4 1149.5,644.9 1157.5,642.9 1165.5,640.0 1173.5,636.6 1181.5,632.8 1189.5,628.8 1197.5,624.5 1205.5,620.0 1213.5,615.5 1221.5,611.2 1229.5,607.8 1237.5,605.7 1245.5,604.5 1253.5,603.8 1261.5,603.9 1269.5,604.7 1277.5,606.5 1285.5,609.2 1293.5,612.6 1301.5,615.6 1309.5,618.1 1317.5,620.5 1325.5,623.1 1333.5,625.9 1341.5,628.7 1349.5,631.3 1357.5,633.2 1365.5,634.4 1373.5,635.4 1381.5,636.3 1389.5,636.7 1397.5,636.8 1405.5,636.3 1413.5,635.1 1421.5,633.2 1429.5,631.1 1437.5,629.0 1445.5,627.2 1453.5,625.6 1461.5,624.0 1469.5,622.7 1477.5,621.8 1485.5,621.2 1493.5,620.8 1501.5,620.3 1509.5,619.8 1517.5,619.0 1525.5,617.9 1533.5,616.6 1541.5,614.9 1549.5,612.8 1557.5,610.2 1565.5,607.2" fill="none" stroke="#ff0000" stroke-width="1" stroke-dasharray="3,3" shape-rendering="crispEdges"/>
</g>
<text x="1" y="596" font-size="9.7" fill="#000" textLength="148.0" lengthAdjust="spacingAndGlyphs" >MACD(12,26,9) 0.012388 0.007912</text>
<rect x="1689" y="585" width="2" height="1" fill="#000" />
<text x="1692.3" y="594" font-size="9.7" fill="#000" textLength="37.5" lengthAdjust="spacingAndGlyphs" >0.014807</text>
<rect x="1689" y="631" width="2" height="1" fill="#000" />
<text x="1692.3" y="635" font-size="9.7" fill="#000" textLength="17.7" lengthAdjust="spacingAndGlyphs" >0.00</text>
<rect x="1689" y="752" width="2" height="1" fill="#000" />
<text x="1692" y="750" font-size="9.7" fill="#000" textLength="40.6" lengthAdjust="spacingAndGlyphs" >-0.038415</text>
<line x1="-2" y1="791.5" x2="1688" y2="791.5" stroke="#c0c0c0" stroke-dasharray="3,3" shape-rendering="crispEdges"/>
<line x1="-2" y1="842.5" x2="1688" y2="842.5" stroke="#c0c0c0" stroke-dasharray="3,3" shape-rendering="crispEdges"/>
<line x1="-2" y1="903.5" x2="1688" y2="903.5" stroke="#c0c0c0" stroke-dasharray="3,3" shape-rendering="crispEdges"/>
<g clip-path="url(#crsi)">
<polyline points="-2.5,809.1 5.5,807.9 13.5,820.0 21.5,838.5 29.5,843.0 37.5,849.7 45.5,850.1 53.5,850.8 61.5,857.6 69.5,858.8 77.5,853.5 85.5,848.5 93.5,836.5 101.5,837.2 109.5,834.5 117.5,820.2 125.5,820.4 133.5,835.2 141.5,843.8 149.5,843.8 157.5,832.7 165.5,840.3 173.5,841.3 181.5,846.0 189.5,847.1 197.5,849.5 205.5,856.8 213.5,851.0 221.5,848.3 229.5,842.7 237.5,851.1 245.5,853.3 253.5,852.4 261.5,845.1 269.5,830.7 277.5,835.3 285.5,841.8 293.5,844.3 301.5,844.5 309.5,850.9 317.5,850.3 325.5,839.0 333.5,823.2 341.5,828.1 349.5,853.3 357.5,848.6 365.5,852.5 373.5,859.4 381.5,864.1 389.5,864.1 397.5,859.2 405.5,852.4 413.5,852.7 421.5,839.0 429.5,840.9 437.5,839.4 445.5,845.5 453.5,846.1 461.5,856.1 469.5,862.7 477.5,847.2 485.5,850.8 493.5,853.2 501.5,841.9 509.5,854.5 517.5,856.9 525.5,866.9 533.5,865.6 541.5,868.8 549.5,859.3 557.5,851.3 565.5,840.5 573.5,832.6 581.5,824.1 589.5,828.0 597.5,848.4 605.5,857.1 613.5,874.3 621.5,886.4 629.5,876.6 637.5,882.1 645.5,887.3 653.5,899.6 661.5,901.6 669.5,894.8 677.5,890.7 685.5,891.4 693.5,874.9 701.5,870.2 709.5,848.9 717.5,835.2 725.5,836.8 733.5,841.1 741.5,839.2 749.5,840.7 757.5,839.9 765.5,846.9 773.5,849.9 781.5,849.0 789.5,841.9 797.5,838.6 805.5,834.8 813.5,834.3 821.5,830.2 829.5,824.1 837.5,833.3 845.5,835.6 853.5,835.6 861.5,835.9 869.5,840.3 877.5,852.0 885.5,849.9 893.5,847.2 901.5,847.3 909.5,845.6 917.5,839.9 925.5,838.0 933.5,834.6 941.5,824.3 949.5,835.9 957.5,839.2 965.5,840.5 973.5,840.4 981.5,854.0 989.5,847.6 997.5,843.2 1005.5,842.8 1013.5,852.3 1021.5,860.4 1029.5,861.5 1037.5,861.7 1045.5,872.5 1053.5,875.1 1061.5,857.9 1069.5,850.7 1077.5,852.9 1085.5,854.2 1093.5,859.4 1101.5,857.9 1109.5,854.9 1117.5,837.9 1125.5,846.2 1133.5,839.5 1141.5,838.6 1149.5,836.4 1157.5,821.8 1165.5,814.1 1173.5,814.8 1181.5,812.6 1189.5,807.6 1197.5,804.3 1205.5,803.1 1213.5,807.9 1221.5,808.1 1229.5,831.0 1237.5,841.9 1245.5,839.9 1253.5,826.4 1261.5,833.3 1269.5,837.3 1277.5,851.2 1285.5,857.7 1293.5,858.5 1301.5,840.7 1309.5,838.4 1317.5,849.8 1325.5,848.4 1333.5,856.2 1341.5,856.3 1349.5,858.7 1357.5,849.2 1365.5,840.6 1373.5,840.8 1381.5,839.2 1389.5,839.9 1397.5,836.3 1405.5,831.2 1413.5,823.7 1421.5,824.4 1429.5,822.2 1437.5,822.9 1445.5,835.9 1453.5,833.7 1461.5,830.3 1469.5,836.1 1477.5,834.8 1485.5,835.0 1493.5,821.4 1501.5,813.6 1509.5,814.1 1517.5,813.7 1525.5,807.9 1533.5,807.5 1541.5,798.6 1549.5,795.8 1557.5,791.9 1565.5,785.6" fill="none" stroke="#1e90ff" stroke-width="1" shape-rendering="crispEdges"/>
</g>
<text x="1" y="768" font-size="9.7" fill="#000" textLength="68.0" lengthAdjust="spacingAndGlyphs" >RSI(14) 83.3765</text>
<rect x="1689" y="757" width="2" height="1" fill="#000" />
<text x="1692.3" y="766" font-size="9.7" fill="#000" textLength="14.4" lengthAdjust="spacingAndGlyphs" >100</text>
<text x="1692.3" y="795" font-size="9.7" fill="#000" textLength="9.6" lengthAdjust="spacingAndGlyphs" >80</text>
<text x="1692.3" y="846" font-size="9.7" fill="#000" textLength="9.6" lengthAdjust="spacingAndGlyphs" >50</text>
<text x="1692.3" y="907" font-size="9.7" fill="#000" textLength="9.6" lengthAdjust="spacingAndGlyphs" >15</text>
<rect x="1689" y="929" width="2" height="1" fill="#000" />
<text x="1692.3" y="926" font-size="9.7" fill="#000" textLength="4.8" lengthAdjust="spacingAndGlyphs" >0</text>
<text x="-4" y="942" font-size="9.7" fill="#000" textLength="51.6" lengthAdjust="spacingAndGlyphs" >13 Dec 2019</text>
<rect x="61" y="930" width="1" height="3" fill="#000" />
<text x="60" y="942" font-size="9.7" fill="#000" textLength="51.6" lengthAdjust="spacingAndGlyphs" >23 Dec 2019</text>
<rect x="125" y="930" width="1" height="3" fill="#000" />
<text x="124" y="942" font-size="9.7" fill="#000" textLength="45.0" lengthAdjust="spacingAndGlyphs" >1 Jan 2020</text>
<rect x="189" y="930" width="1" height="3" fill="#000" />
<text x="188" y="942" font-size="9.7" fill="#000" textLength="50.1" lengthAdjust="spacingAndGlyphs" >10 Jan 2020</text>
<rect x="253" y="930" width="1" height="3" fill="#000" />
<text x="252" y="942" font-size="9.7" fill="#000" textLength="50.1" lengthAdjust="spacingAndGlyphs" >20 Jan 2020</text>
<rect x="317" y="930" width="1" height="3" fill="#000" />
<text x="316" y="942" font-size="9.7" fill="#000" textLength="50.1" lengthAdjust="spacingAndGlyphs" >29 Jan 2020</text>
<rect x="381" y="930" width="1" height="3" fill="#000" />
<text x="380" y="942" font-size="9.7" fill="#000" textLength="46.0" lengthAdjust="spacingAndGlyphs" >7 Feb 2020</text>
<rect x="445" y="930" width="1" height="3" fill="#000" />
<text x="444" y="942" font-size="9.7" fill="#000" textLength="51.1" lengthAdjust="spacingAndGlyphs" >17 Feb 2020</text>
<rect x="509" y="930" width="1" height="3" fill="#000" />
<text x="508" y="942" font-size="9.7" fill="#000" textLength="51.1" lengthAdjust="spacingAndGlyphs" >26 Feb 2020</text>
<rect x="573" y="930" width="1" height="3" fill="#000" />
<text x="572" y="942" font-size="9.7" fill="#000" textLength="46.0" lengthAdjust="spacingAndGlyphs" >6 Mar 2020</text>
<rect x="637" y="930" width="1" height="3" fill="#000" />
<text x="636" y="942" font-size="9.7" fill="#000" textLength="51.1" lengthAdjust="spacingAndGlyphs" >16 Mar 2020</text>
<rect x="701" y="930" width="1" height="3" fill="#000" />
<text x="700" y="942" font-size="9.7" fill="#000" textLength="51.1" lengthAdjust="spacingAndGlyphs" >25 Mar 2020</text>
<rect x="765" y="930" width="1" height="3" fill="#000" />
<text x="764" y="942" font-size="9.7" fill="#000" textLength="44.0" lengthAdjust="spacingAndGlyphs" >3 Apr 2020</text>
<rect x="829" y="930" width="1" height="3" fill="#000" />
<text x="828" y="942" font-size="9.7" fill="#000" textLength="49.1" lengthAdjust="spacingAndGlyphs" >14 Apr 2020</text>
<rect x="893" y="930" width="1" height="3" fill="#000" />
<text x="892" y="942" font-size="9.7" fill="#000" textLength="49.1" lengthAdjust="spacingAndGlyphs" >23 Apr 2020</text>
<rect x="957" y="930" width="1" height="3" fill="#000" />
<text x="956" y="942" font-size="9.7" fill="#000" textLength="47.5" lengthAdjust="spacingAndGlyphs" >3 May 2020</text>
<rect x="1021" y="930" width="1" height="3" fill="#000" />
<text x="1020" y="942" font-size="9.7" fill="#000" textLength="52.6" lengthAdjust="spacingAndGlyphs" >12 May 2020</text>
<rect x="1085" y="930" width="1" height="3" fill="#000" />
<text x="1084" y="942" font-size="9.7" fill="#000" textLength="52.6" lengthAdjust="spacingAndGlyphs" >21 May 2020</text>
<rect x="1149" y="930" width="1" height="3" fill="#000" />
<text x="1148" y="942" font-size="9.7" fill="#000" textLength="52.6" lengthAdjust="spacingAndGlyphs" >31 May 2020</text>
<rect x="1213" y="930" width="1" height="3" fill="#000" />
<text x="1212" y="942" font-size="9.7" fill="#000" textLength="45.0" lengthAdjust="spacingAndGlyphs" >9 Jun 2020</text>
<rect x="1277" y="930" width="1" height="3" fill="#000" />
<text x="1276" y="942" font-size="9.7" fill="#000" textLength="50.1" lengthAdjust="spacingAndGlyphs" >18 Jun 2020</text>
<rect x="1341" y="930" width="1" height="3" fill="#000" />
<text x="1340" y="942" font-size="9.7" fill="#000" textLength="50.1" lengthAdjust="spacingAndGlyphs" >28 Jun 2020</text>
<rect x="1405" y="930" width="1" height="3" fill="#000" />
<text x="1404" y="942" font-size="9.7" fill="#000" textLength="42.0" lengthAdjust="spacingAndGlyphs" >7 Jul 2020</text>
<rect x="1469" y="930" width="1" height="3" fill="#000" />
<text x="1468" y="942" font-size="9.7" fill="#000" textLength="47.0" lengthAdjust="spacingAndGlyphs" >16 Jul 2020</text>
<rect x="1533" y="930" width="1" height="3" fill="#000" />
<text x="1532" y="942" font-size="9.7" fill="#000" textLength="47.0" lengthAdjust="spacingAndGlyphs" >26 Jul 2020</text>
</svg>
</body></html>
